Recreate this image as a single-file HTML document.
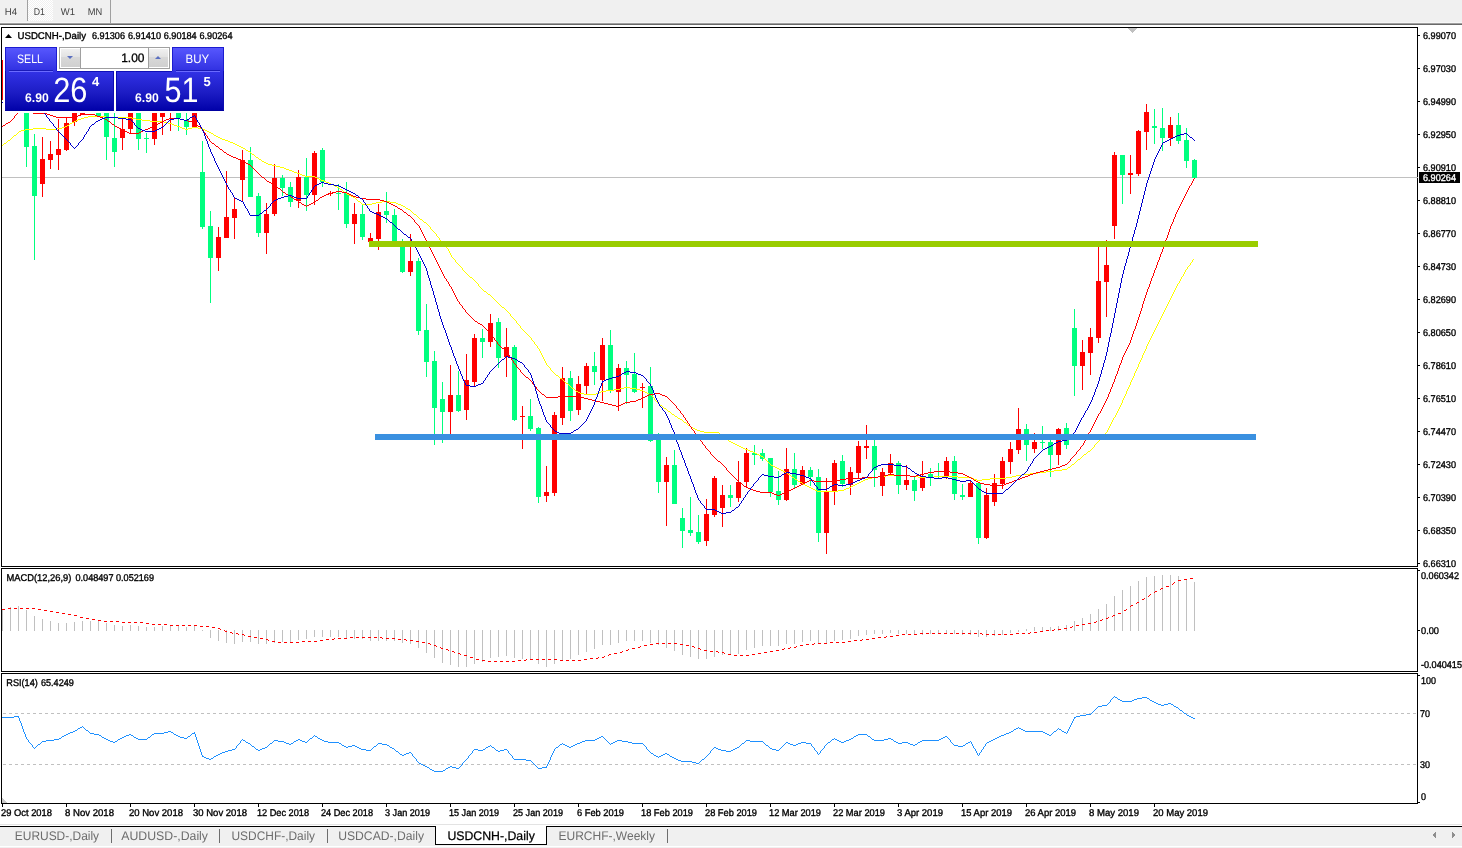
<!DOCTYPE html>
<html lang="en"><head><meta charset="utf-8"><title>USDCNH-,Daily</title>
<style>html,body{margin:0;padding:0;background:#fff;overflow:hidden}svg{display:block}text{white-space:pre}</style>
</head><body>
<svg width="1462" height="848" viewBox="0 0 1462 848" font-family="'Liberation Sans', sans-serif" shape-rendering="crispEdges" text-rendering="geometricPrecision">
<defs><linearGradient id="gbtn" x1="0" y1="0" x2="0" y2="1"><stop offset="0" stop-color="#5858ff"/><stop offset="1" stop-color="#2f2fe0"/></linearGradient><linearGradient id="gprice" x1="0" y1="0" x2="0" y2="1"><stop offset="0" stop-color="#3232e6"/><stop offset="0.55" stop-color="#1c1cc4"/><stop offset="1" stop-color="#0000a8"/></linearGradient><linearGradient id="gspin" x1="0" y1="0" x2="0" y2="1"><stop offset="0" stop-color="#f0f0f0"/><stop offset="0.45" stop-color="#e2e2e2"/><stop offset="0.46" stop-color="#d8d8d8"/><stop offset="1" stop-color="#d0d0d0"/></linearGradient><pattern id="chk" width="2" height="2" patternUnits="userSpaceOnUse"><rect width="2" height="2" fill="#ffffff"/><rect width="1" height="1" fill="#f0f0f0"/><rect x="1" y="1" width="1" height="1" fill="#f0f0f0"/></pattern><clipPath id="cmain"><rect x="2" y="28" width="1415" height="538"/></clipPath></defs>
<rect x="0" y="0" width="1462" height="848" fill="#fff"/>
<rect x="0" y="0" width="1462" height="23" fill="#f0f0f0"/>
<rect x="0" y="22" width="1462" height="1" fill="#f7f7f7"/>
<rect x="0" y="23" width="1462" height="1" fill="#a0a0a0"/>
<rect x="0" y="24" width="1462" height="1" fill="#696969"/>
<rect x="28" y="0" width="25" height="21" fill="url(#chk)"/>
<rect x="27" y="0" width="1" height="21" fill="#a0a0a0"/>
<rect x="110" y="0" width="1" height="23" fill="#a0a0a0"/>
<text x="4.7" y="15" font-size="9.7" fill="#444" textLength="12.3" lengthAdjust="spacingAndGlyphs">H4</text>
<text x="33.8" y="15" font-size="9.7" fill="#444" textLength="11.2" lengthAdjust="spacingAndGlyphs">D1</text>
<text x="60.8" y="15" font-size="9.7" fill="#444" textLength="14.2" lengthAdjust="spacingAndGlyphs">W1</text>
<text x="87.7" y="15" font-size="9.7" fill="#444" textLength="14.5" lengthAdjust="spacingAndGlyphs">MN</text>
<rect x="1" y="27" width="1417" height="1" fill="#000"/>
<rect x="1" y="566" width="1417" height="1" fill="#000"/>
<rect x="1" y="27" width="1" height="540" fill="#000"/>
<rect x="1417" y="27" width="1" height="540" fill="#000"/>
<rect x="1" y="568" width="1417" height="1" fill="#000"/>
<rect x="1" y="671" width="1417" height="1" fill="#000"/>
<rect x="1" y="568" width="1" height="104" fill="#000"/>
<rect x="1417" y="568" width="1" height="104" fill="#000"/>
<rect x="1" y="673" width="1417" height="1" fill="#000"/>
<rect x="1" y="803" width="1417" height="1" fill="#000"/>
<rect x="1" y="673" width="1" height="131" fill="#000"/>
<rect x="1417" y="673" width="1" height="131" fill="#000"/>
<g clip-path="url(#cmain)">
<rect x="2" y="177" width="1415" height="1" fill="#c0c0c0"/>
<rect x="26" y="108" width="1" height="59" fill="#00FF7F"/>
<rect x="24" y="110" width="5" height="37" fill="#00FF7F"/>
<rect x="34" y="134" width="1" height="126" fill="#00FF7F"/>
<rect x="32" y="146" width="5" height="50" fill="#00FF7F"/>
<rect x="42" y="137" width="1" height="60" fill="#FF0000"/>
<rect x="40" y="159" width="5" height="25" fill="#FF0000"/>
<rect x="50" y="141" width="1" height="28" fill="#FF0000"/>
<rect x="48" y="154" width="5" height="6" fill="#FF0000"/>
<rect x="58" y="119" width="1" height="51" fill="#FF0000"/>
<rect x="56" y="149" width="5" height="6" fill="#FF0000"/>
<rect x="66" y="118" width="1" height="33" fill="#FF0000"/>
<rect x="64" y="123" width="5" height="27" fill="#FF0000"/>
<rect x="74" y="105" width="1" height="21" fill="#FF0000"/>
<rect x="72" y="105" width="5" height="17" fill="#FF0000"/>
<rect x="82" y="105" width="1" height="10" fill="#FF0000"/>
<rect x="80" y="105" width="5" height="10" fill="#FF0000"/>
<rect x="90" y="105" width="1" height="7" fill="#00FF7F"/>
<rect x="88" y="105" width="5" height="7" fill="#00FF7F"/>
<rect x="98" y="105" width="1" height="12" fill="#00FF7F"/>
<rect x="96" y="105" width="5" height="12" fill="#00FF7F"/>
<rect x="106" y="105" width="1" height="55" fill="#00FF7F"/>
<rect x="104" y="105" width="5" height="32" fill="#00FF7F"/>
<rect x="114" y="113" width="1" height="54" fill="#00FF7F"/>
<rect x="112" y="138" width="5" height="14" fill="#00FF7F"/>
<rect x="122" y="118" width="1" height="32" fill="#FF0000"/>
<rect x="120" y="129" width="5" height="9" fill="#FF0000"/>
<rect x="130" y="105" width="1" height="28" fill="#FF0000"/>
<rect x="128" y="105" width="5" height="24" fill="#FF0000"/>
<rect x="138" y="105" width="1" height="45" fill="#00FF7F"/>
<rect x="136" y="105" width="5" height="34" fill="#00FF7F"/>
<rect x="146" y="133" width="1" height="20" fill="#00FF7F"/>
<rect x="144" y="138" width="5" height="1" fill="#00FF7F"/>
<rect x="154" y="105" width="1" height="40" fill="#FF0000"/>
<rect x="152" y="105" width="5" height="34" fill="#FF0000"/>
<rect x="162" y="105" width="1" height="30" fill="#FF0000"/>
<rect x="160" y="105" width="5" height="12" fill="#FF0000"/>
<rect x="170" y="105" width="1" height="26" fill="#FF0000"/>
<rect x="168" y="105" width="5" height="7" fill="#FF0000"/>
<rect x="178" y="105" width="1" height="26" fill="#00FF7F"/>
<rect x="176" y="105" width="5" height="13" fill="#00FF7F"/>
<rect x="186" y="105" width="1" height="30" fill="#00FF7F"/>
<rect x="184" y="120" width="5" height="7" fill="#00FF7F"/>
<rect x="194" y="105" width="1" height="22" fill="#FF0000"/>
<rect x="192" y="105" width="5" height="22" fill="#FF0000"/>
<rect x="202" y="141" width="1" height="88" fill="#00FF7F"/>
<rect x="200" y="172" width="5" height="55" fill="#00FF7F"/>
<rect x="210" y="211" width="1" height="92" fill="#00FF7F"/>
<rect x="208" y="226" width="5" height="32" fill="#00FF7F"/>
<rect x="218" y="227" width="1" height="44" fill="#FF0000"/>
<rect x="216" y="237" width="5" height="21" fill="#FF0000"/>
<rect x="226" y="171" width="1" height="67" fill="#FF0000"/>
<rect x="224" y="217" width="5" height="21" fill="#FF0000"/>
<rect x="234" y="198" width="1" height="41" fill="#FF0000"/>
<rect x="232" y="209" width="5" height="9" fill="#FF0000"/>
<rect x="242" y="150" width="1" height="51" fill="#FF0000"/>
<rect x="240" y="160" width="5" height="20" fill="#FF0000"/>
<rect x="250" y="147" width="1" height="50" fill="#00FF7F"/>
<rect x="248" y="160" width="5" height="37" fill="#00FF7F"/>
<rect x="258" y="193" width="1" height="44" fill="#00FF7F"/>
<rect x="256" y="196" width="5" height="37" fill="#00FF7F"/>
<rect x="266" y="203" width="1" height="51" fill="#FF0000"/>
<rect x="264" y="214" width="5" height="19" fill="#FF0000"/>
<rect x="274" y="164" width="1" height="52" fill="#FF0000"/>
<rect x="272" y="178" width="5" height="36" fill="#FF0000"/>
<rect x="282" y="175" width="1" height="21" fill="#00FF7F"/>
<rect x="280" y="178" width="5" height="10" fill="#00FF7F"/>
<rect x="290" y="182" width="1" height="25" fill="#00FF7F"/>
<rect x="288" y="187" width="5" height="15" fill="#00FF7F"/>
<rect x="298" y="170" width="1" height="38" fill="#FF0000"/>
<rect x="296" y="177" width="5" height="24" fill="#FF0000"/>
<rect x="306" y="158" width="1" height="53" fill="#00FF7F"/>
<rect x="304" y="177" width="5" height="18" fill="#00FF7F"/>
<rect x="314" y="151" width="1" height="54" fill="#FF0000"/>
<rect x="312" y="153" width="5" height="42" fill="#FF0000"/>
<rect x="322" y="148" width="1" height="39" fill="#00FF7F"/>
<rect x="320" y="150" width="5" height="32" fill="#00FF7F"/>
<rect x="330" y="191" width="1" height="5" fill="#FF0000"/>
<rect x="328" y="193" width="5" height="1" fill="#FF0000"/>
<rect x="338" y="184" width="1" height="26" fill="#00FF7F"/>
<rect x="336" y="193" width="5" height="1" fill="#00FF7F"/>
<rect x="346" y="182" width="1" height="46" fill="#00FF7F"/>
<rect x="344" y="193" width="5" height="31" fill="#00FF7F"/>
<rect x="354" y="203" width="1" height="41" fill="#FF0000"/>
<rect x="352" y="214" width="5" height="10" fill="#FF0000"/>
<rect x="362" y="205" width="1" height="35" fill="#00FF7F"/>
<rect x="360" y="214" width="5" height="23" fill="#00FF7F"/>
<rect x="370" y="233" width="1" height="9" fill="#FF0000"/>
<rect x="368" y="238" width="5" height="4" fill="#FF0000"/>
<rect x="378" y="204" width="1" height="46" fill="#FF0000"/>
<rect x="376" y="212" width="5" height="27" fill="#FF0000"/>
<rect x="386" y="192" width="1" height="31" fill="#00FF7F"/>
<rect x="384" y="211" width="5" height="4" fill="#00FF7F"/>
<rect x="394" y="209" width="1" height="34" fill="#00FF7F"/>
<rect x="392" y="215" width="5" height="28" fill="#00FF7F"/>
<rect x="402" y="239" width="1" height="34" fill="#00FF7F"/>
<rect x="400" y="242" width="5" height="30" fill="#00FF7F"/>
<rect x="410" y="234" width="1" height="42" fill="#FF0000"/>
<rect x="408" y="261" width="5" height="11" fill="#FF0000"/>
<rect x="418" y="258" width="1" height="77" fill="#00FF7F"/>
<rect x="416" y="261" width="5" height="70" fill="#00FF7F"/>
<rect x="426" y="304" width="1" height="73" fill="#00FF7F"/>
<rect x="424" y="330" width="5" height="32" fill="#00FF7F"/>
<rect x="434" y="351" width="1" height="94" fill="#00FF7F"/>
<rect x="432" y="361" width="5" height="47" fill="#00FF7F"/>
<rect x="442" y="382" width="1" height="61" fill="#00FF7F"/>
<rect x="440" y="399" width="5" height="13" fill="#00FF7F"/>
<rect x="450" y="365" width="1" height="71" fill="#FF0000"/>
<rect x="448" y="395" width="5" height="17" fill="#FF0000"/>
<rect x="458" y="371" width="1" height="41" fill="#00FF7F"/>
<rect x="456" y="395" width="5" height="16" fill="#00FF7F"/>
<rect x="466" y="354" width="1" height="66" fill="#FF0000"/>
<rect x="464" y="380" width="5" height="30" fill="#FF0000"/>
<rect x="474" y="334" width="1" height="52" fill="#FF0000"/>
<rect x="472" y="338" width="5" height="44" fill="#FF0000"/>
<rect x="482" y="329" width="1" height="29" fill="#00FF7F"/>
<rect x="480" y="338" width="5" height="4" fill="#00FF7F"/>
<rect x="490" y="314" width="1" height="33" fill="#FF0000"/>
<rect x="488" y="323" width="5" height="19" fill="#FF0000"/>
<rect x="498" y="318" width="1" height="50" fill="#00FF7F"/>
<rect x="496" y="322" width="5" height="36" fill="#00FF7F"/>
<rect x="506" y="328" width="1" height="49" fill="#FF0000"/>
<rect x="504" y="347" width="5" height="10" fill="#FF0000"/>
<rect x="514" y="345" width="1" height="76" fill="#00FF7F"/>
<rect x="512" y="347" width="5" height="73" fill="#00FF7F"/>
<rect x="522" y="406" width="1" height="43" fill="#FF0000"/>
<rect x="520" y="416" width="5" height="1" fill="#FF0000"/>
<rect x="530" y="399" width="1" height="32" fill="#00FF7F"/>
<rect x="528" y="416" width="5" height="13" fill="#00FF7F"/>
<rect x="538" y="427" width="1" height="76" fill="#00FF7F"/>
<rect x="536" y="428" width="5" height="69" fill="#00FF7F"/>
<rect x="546" y="466" width="1" height="36" fill="#FF0000"/>
<rect x="544" y="492" width="5" height="4" fill="#FF0000"/>
<rect x="554" y="412" width="1" height="84" fill="#FF0000"/>
<rect x="552" y="415" width="5" height="78" fill="#FF0000"/>
<rect x="562" y="367" width="1" height="58" fill="#FF0000"/>
<rect x="560" y="378" width="5" height="40" fill="#FF0000"/>
<rect x="570" y="371" width="1" height="50" fill="#00FF7F"/>
<rect x="568" y="378" width="5" height="33" fill="#00FF7F"/>
<rect x="578" y="376" width="1" height="39" fill="#FF0000"/>
<rect x="576" y="384" width="5" height="26" fill="#FF0000"/>
<rect x="586" y="363" width="1" height="31" fill="#FF0000"/>
<rect x="584" y="366" width="5" height="20" fill="#FF0000"/>
<rect x="594" y="352" width="1" height="33" fill="#00FF7F"/>
<rect x="592" y="366" width="5" height="6" fill="#00FF7F"/>
<rect x="602" y="338" width="1" height="63" fill="#FF0000"/>
<rect x="600" y="345" width="5" height="35" fill="#FF0000"/>
<rect x="610" y="330" width="1" height="63" fill="#00FF7F"/>
<rect x="608" y="345" width="5" height="46" fill="#00FF7F"/>
<rect x="618" y="364" width="1" height="47" fill="#FF0000"/>
<rect x="616" y="368" width="5" height="24" fill="#FF0000"/>
<rect x="626" y="361" width="1" height="43" fill="#00FF7F"/>
<rect x="624" y="368" width="5" height="7" fill="#00FF7F"/>
<rect x="634" y="353" width="1" height="40" fill="#00FF7F"/>
<rect x="632" y="374" width="5" height="18" fill="#00FF7F"/>
<rect x="642" y="383" width="1" height="25" fill="#FF0000"/>
<rect x="640" y="387" width="5" height="1" fill="#FF0000"/>
<rect x="650" y="367" width="1" height="75" fill="#00FF7F"/>
<rect x="648" y="386" width="5" height="55" fill="#00FF7F"/>
<rect x="658" y="433" width="1" height="60" fill="#00FF7F"/>
<rect x="656" y="436" width="5" height="46" fill="#00FF7F"/>
<rect x="666" y="457" width="1" height="69" fill="#FF0000"/>
<rect x="664" y="465" width="5" height="17" fill="#FF0000"/>
<rect x="674" y="450" width="1" height="54" fill="#00FF7F"/>
<rect x="672" y="465" width="5" height="39" fill="#00FF7F"/>
<rect x="682" y="508" width="1" height="40" fill="#00FF7F"/>
<rect x="680" y="518" width="5" height="13" fill="#00FF7F"/>
<rect x="690" y="497" width="1" height="39" fill="#00FF7F"/>
<rect x="688" y="530" width="5" height="3" fill="#00FF7F"/>
<rect x="698" y="515" width="1" height="29" fill="#00FF7F"/>
<rect x="696" y="532" width="5" height="10" fill="#00FF7F"/>
<rect x="706" y="499" width="1" height="47" fill="#FF0000"/>
<rect x="704" y="514" width="5" height="27" fill="#FF0000"/>
<rect x="714" y="476" width="1" height="41" fill="#FF0000"/>
<rect x="712" y="478" width="5" height="37" fill="#FF0000"/>
<rect x="722" y="485" width="1" height="42" fill="#FF0000"/>
<rect x="720" y="495" width="5" height="13" fill="#FF0000"/>
<rect x="730" y="485" width="1" height="22" fill="#00FF7F"/>
<rect x="728" y="495" width="5" height="3" fill="#00FF7F"/>
<rect x="738" y="461" width="1" height="41" fill="#FF0000"/>
<rect x="736" y="482" width="5" height="16" fill="#FF0000"/>
<rect x="746" y="448" width="1" height="40" fill="#FF0000"/>
<rect x="744" y="453" width="5" height="29" fill="#FF0000"/>
<rect x="754" y="445" width="1" height="20" fill="#00FF7F"/>
<rect x="752" y="453" width="5" height="2" fill="#00FF7F"/>
<rect x="762" y="449" width="1" height="12" fill="#00FF7F"/>
<rect x="760" y="453" width="5" height="6" fill="#00FF7F"/>
<rect x="770" y="458" width="1" height="39" fill="#00FF7F"/>
<rect x="768" y="458" width="5" height="34" fill="#00FF7F"/>
<rect x="778" y="471" width="1" height="34" fill="#00FF7F"/>
<rect x="776" y="491" width="5" height="9" fill="#00FF7F"/>
<rect x="786" y="448" width="1" height="53" fill="#FF0000"/>
<rect x="784" y="469" width="5" height="31" fill="#FF0000"/>
<rect x="794" y="453" width="1" height="36" fill="#00FF7F"/>
<rect x="792" y="469" width="5" height="16" fill="#00FF7F"/>
<rect x="802" y="466" width="1" height="19" fill="#FF0000"/>
<rect x="800" y="470" width="5" height="14" fill="#FF0000"/>
<rect x="810" y="467" width="1" height="19" fill="#00FF7F"/>
<rect x="808" y="470" width="5" height="7" fill="#00FF7F"/>
<rect x="818" y="469" width="1" height="73" fill="#00FF7F"/>
<rect x="816" y="477" width="5" height="56" fill="#00FF7F"/>
<rect x="826" y="478" width="1" height="76" fill="#FF0000"/>
<rect x="824" y="491" width="5" height="42" fill="#FF0000"/>
<rect x="834" y="460" width="1" height="45" fill="#FF0000"/>
<rect x="832" y="463" width="5" height="28" fill="#FF0000"/>
<rect x="842" y="455" width="1" height="32" fill="#00FF7F"/>
<rect x="840" y="461" width="5" height="23" fill="#00FF7F"/>
<rect x="850" y="467" width="1" height="28" fill="#FF0000"/>
<rect x="848" y="472" width="5" height="13" fill="#FF0000"/>
<rect x="858" y="441" width="1" height="37" fill="#FF0000"/>
<rect x="856" y="446" width="5" height="27" fill="#FF0000"/>
<rect x="866" y="425" width="1" height="34" fill="#FF0000"/>
<rect x="864" y="446" width="5" height="2" fill="#FF0000"/>
<rect x="874" y="437" width="1" height="50" fill="#00FF7F"/>
<rect x="872" y="446" width="5" height="24" fill="#00FF7F"/>
<rect x="882" y="468" width="1" height="28" fill="#FF0000"/>
<rect x="880" y="472" width="5" height="14" fill="#FF0000"/>
<rect x="890" y="454" width="1" height="21" fill="#FF0000"/>
<rect x="888" y="463" width="5" height="10" fill="#FF0000"/>
<rect x="898" y="461" width="1" height="33" fill="#00FF7F"/>
<rect x="896" y="463" width="5" height="22" fill="#00FF7F"/>
<rect x="906" y="465" width="1" height="25" fill="#FF0000"/>
<rect x="904" y="480" width="5" height="5" fill="#FF0000"/>
<rect x="914" y="477" width="1" height="24" fill="#00FF7F"/>
<rect x="912" y="480" width="5" height="11" fill="#00FF7F"/>
<rect x="922" y="461" width="1" height="30" fill="#FF0000"/>
<rect x="920" y="476" width="5" height="12" fill="#FF0000"/>
<rect x="930" y="468" width="1" height="18" fill="#00FF7F"/>
<rect x="928" y="474" width="5" height="4" fill="#00FF7F"/>
<rect x="938" y="463" width="1" height="15" fill="#00FF7F"/>
<rect x="936" y="476" width="5" height="1" fill="#00FF7F"/>
<rect x="946" y="457" width="1" height="22" fill="#FF0000"/>
<rect x="944" y="461" width="5" height="15" fill="#FF0000"/>
<rect x="954" y="456" width="1" height="44" fill="#00FF7F"/>
<rect x="952" y="461" width="5" height="33" fill="#00FF7F"/>
<rect x="962" y="484" width="1" height="16" fill="#00FF7F"/>
<rect x="960" y="495" width="5" height="2" fill="#00FF7F"/>
<rect x="970" y="481" width="1" height="16" fill="#FF0000"/>
<rect x="968" y="483" width="5" height="14" fill="#FF0000"/>
<rect x="978" y="482" width="1" height="62" fill="#00FF7F"/>
<rect x="976" y="483" width="5" height="55" fill="#00FF7F"/>
<rect x="986" y="488" width="1" height="51" fill="#FF0000"/>
<rect x="984" y="495" width="5" height="43" fill="#FF0000"/>
<rect x="994" y="474" width="1" height="32" fill="#FF0000"/>
<rect x="992" y="483" width="5" height="19" fill="#FF0000"/>
<rect x="1002" y="457" width="1" height="32" fill="#FF0000"/>
<rect x="1000" y="461" width="5" height="23" fill="#FF0000"/>
<rect x="1010" y="442" width="1" height="32" fill="#FF0000"/>
<rect x="1008" y="449" width="5" height="13" fill="#FF0000"/>
<rect x="1018" y="408" width="1" height="46" fill="#FF0000"/>
<rect x="1016" y="429" width="5" height="21" fill="#FF0000"/>
<rect x="1026" y="424" width="1" height="37" fill="#00FF7F"/>
<rect x="1024" y="429" width="5" height="16" fill="#00FF7F"/>
<rect x="1034" y="433" width="1" height="20" fill="#FF0000"/>
<rect x="1032" y="442" width="5" height="7" fill="#FF0000"/>
<rect x="1042" y="426" width="1" height="23" fill="#00FF7F"/>
<rect x="1040" y="442" width="5" height="1" fill="#00FF7F"/>
<rect x="1050" y="440" width="1" height="37" fill="#00FF7F"/>
<rect x="1048" y="442" width="5" height="13" fill="#00FF7F"/>
<rect x="1058" y="428" width="1" height="37" fill="#FF0000"/>
<rect x="1056" y="429" width="5" height="26" fill="#FF0000"/>
<rect x="1066" y="423" width="1" height="26" fill="#00FF7F"/>
<rect x="1064" y="428" width="5" height="17" fill="#00FF7F"/>
<rect x="1074" y="309" width="1" height="87" fill="#00FF7F"/>
<rect x="1072" y="328" width="5" height="38" fill="#00FF7F"/>
<rect x="1082" y="340" width="1" height="50" fill="#FF0000"/>
<rect x="1080" y="352" width="5" height="14" fill="#FF0000"/>
<rect x="1090" y="328" width="1" height="47" fill="#FF0000"/>
<rect x="1088" y="337" width="5" height="16" fill="#FF0000"/>
<rect x="1098" y="243" width="1" height="100" fill="#FF0000"/>
<rect x="1096" y="281" width="5" height="57" fill="#FF0000"/>
<rect x="1106" y="240" width="1" height="77" fill="#FF0000"/>
<rect x="1104" y="265" width="5" height="17" fill="#FF0000"/>
<rect x="1114" y="152" width="1" height="87" fill="#FF0000"/>
<rect x="1112" y="155" width="5" height="71" fill="#FF0000"/>
<rect x="1122" y="155" width="1" height="49" fill="#00FF7F"/>
<rect x="1120" y="155" width="5" height="20" fill="#00FF7F"/>
<rect x="1130" y="155" width="1" height="39" fill="#FF0000"/>
<rect x="1128" y="173" width="5" height="2" fill="#FF0000"/>
<rect x="1138" y="130" width="1" height="46" fill="#FF0000"/>
<rect x="1136" y="131" width="5" height="43" fill="#FF0000"/>
<rect x="1146" y="104" width="1" height="46" fill="#FF0000"/>
<rect x="1144" y="112" width="5" height="20" fill="#FF0000"/>
<rect x="1154" y="109" width="1" height="35" fill="#00FF7F"/>
<rect x="1152" y="126" width="5" height="2" fill="#00FF7F"/>
<rect x="1162" y="108" width="1" height="43" fill="#00FF7F"/>
<rect x="1160" y="128" width="5" height="10" fill="#00FF7F"/>
<rect x="1170" y="117" width="1" height="29" fill="#FF0000"/>
<rect x="1168" y="125" width="5" height="13" fill="#FF0000"/>
<rect x="1178" y="113" width="1" height="31" fill="#00FF7F"/>
<rect x="1176" y="125" width="5" height="16" fill="#00FF7F"/>
<rect x="1186" y="128" width="1" height="40" fill="#00FF7F"/>
<rect x="1184" y="140" width="5" height="21" fill="#00FF7F"/>
<rect x="1194" y="159" width="1" height="19" fill="#00FF7F"/>
<rect x="1192" y="160" width="5" height="18" fill="#00FF7F"/>
<rect x="2" y="60" width="1" height="40" fill="#FF0000"/>
<rect x="2" y="102" width="1" height="1" fill="#0000CD"/>
<path d="M2 145h1v1h-1zM3 144h1v1h-1zM4 143h2v1h-2zM6 142h1v1h-1zM7 141h1v1h-1zM8 140h2v1h-2zM10 139h1v1h-1zM11 138h1v1h-1zM12 137h1v1h-1zM13 136h1v1h-1zM14 135h2v1h-2zM16 134h1v1h-1zM17 133h1v1h-1zM18 132h1v1h-1zM19 131h2v1h-2zM21 130h4v1h-4zM25 129h8v1h-8zM33 128h13v1h-13zM46 129h10v1h-10zM56 128h6v1h-6zM62 127h3v1h-3zM65 126h2v1h-2zM67 125h2v1h-2zM69 124h1v1h-1zM70 123h2v1h-2zM72 122h2v1h-2zM74 121h2v1h-2zM76 120h2v1h-2zM78 119h3v1h-3zM81 118h3v1h-3zM84 117h4v1h-4zM88 116h18v1h-18zM106 117h26v1h-26zM132 118h4v1h-4zM136 119h6v1h-6zM142 120h8v1h-8zM150 121h14v1h-14zM164 122h4v1h-4zM168 123h4v1h-4zM172 124h2v1h-2zM174 125h3v1h-3zM177 126h3v1h-3zM180 127h2v1h-2zM182 128h3v1h-3zM185 129h3v1h-3zM188 128h4v1h-4zM192 127h6v1h-6zM198 128h5v1h-5zM203 129h2v1h-2zM205 130h2v1h-2zM207 131h2v1h-2zM209 132h2v1h-2zM211 133h2v1h-2zM213 134h1v1h-1zM214 135h2v1h-2zM216 136h2v1h-2zM218 137h2v1h-2zM220 138h2v1h-2zM222 139h3v1h-3zM225 140h3v1h-3zM228 141h2v1h-2zM230 142h3v1h-3zM233 143h2v1h-2zM235 144h2v1h-2zM237 145h2v1h-2zM239 146h2v1h-2zM241 147h2v1h-2zM243 148h2v1h-2zM245 149h1v1h-1zM246 150h2v1h-2zM248 151h2v1h-2zM250 152h1v1h-1zM251 153h1v1h-1zM252 154h2v1h-2zM254 155h1v1h-1zM255 156h1v1h-1zM256 157h2v1h-2zM258 158h1v1h-1zM259 159h2v1h-2zM261 160h1v1h-1zM262 161h2v1h-2zM264 162h2v1h-2zM266 163h2v1h-2zM268 164h4v1h-4zM272 165h4v1h-4zM276 166h4v1h-4zM280 167h4v1h-4zM284 168h2v1h-2zM286 169h3v1h-3zM289 170h3v1h-3zM292 171h2v1h-2zM294 172h3v1h-3zM297 173h3v1h-3zM300 174h2v1h-2zM302 175h3v1h-3zM305 176h10v1h-10zM315 177h2v1h-2zM317 178h2v1h-2zM319 179h2v1h-2zM321 180h3v1h-3zM324 181h2v1h-2zM326 182h3v1h-3zM329 183h2v1h-2zM331 184h2v1h-2zM333 185h2v1h-2zM335 186h2v1h-2zM337 187h2v1h-2zM339 188h1v1h-1zM340 189h2v1h-2zM342 190h1v1h-1zM343 191h1v1h-1zM344 192h2v1h-2zM346 193h1v1h-1zM347 194h2v1h-2zM349 195h2v1h-2zM351 196h2v1h-2zM353 197h2v1h-2zM355 198h1v1h-1zM356 199h1v1h-1zM357 200h1v1h-1zM358 201h2v1h-2zM360 202h1v1h-1zM361 203h1v1h-1zM362 204h10v1h-10zM372 203h4v1h-4zM376 202h6v1h-6zM382 201h8v1h-8zM390 202h6v1h-6zM396 203h2v1h-2zM398 204h3v1h-3zM401 205h2v1h-2zM403 206h2v1h-2zM405 207h1v1h-1zM406 208h2v1h-2zM408 209h2v1h-2zM410 210h1v1h-1zM411 211h1v1h-1zM412 212h1v1h-1zM413 213h1v1h-1zM414 214h2v1h-2zM416 215h1v1h-1zM417 216h1v1h-1zM418 217h1v1h-1zM419 218h1v1h-1zM420 219h2v1h-2zM422 220h1v1h-1zM423 221h1v1h-1zM424 222h2v1h-2zM426 223h1v1h-1zM427 224h1v1h-1zM428 225h1v1h-1zM429 226h1v1h-1zM430 227h1v2h-1zM431 229h1v1h-1zM432 230h1v1h-1zM433 231h1v1h-1zM434 232h1v1h-1zM435 233h1v1h-1zM436 234h1v2h-1zM437 236h1v1h-1zM438 237h1v1h-1zM439 238h1v2h-1zM440 240h1v1h-1zM441 241h1v1h-1zM442 242h1v1h-1zM443 243h1v1h-1zM444 244h1v2h-1zM445 246h1v1h-1zM446 247h1v1h-1zM447 248h1v1h-1zM448 249h1v2h-1zM449 251h1v2h-1zM450 253h1v2h-1zM451 255h1v2h-1zM452 257h1v1h-1zM453 258h1v1h-1zM454 259h1v1h-1zM455 260h1v2h-1zM456 262h1v1h-1zM457 263h1v1h-1zM458 264h1v1h-1zM459 265h1v1h-1zM460 266h1v1h-1zM461 267h1v1h-1zM462 268h1v2h-1zM463 270h1v1h-1zM464 271h1v1h-1zM465 272h1v1h-1zM466 273h1v1h-1zM467 274h1v1h-1zM468 275h1v1h-1zM469 276h1v1h-1zM470 277h2v1h-2zM472 278h1v1h-1zM473 279h1v1h-1zM474 280h1v1h-1zM475 281h1v1h-1zM476 282h1v1h-1zM477 283h1v1h-1zM478 284h1v2h-1zM479 286h1v1h-1zM480 287h1v1h-1zM481 288h1v1h-1zM482 289h1v1h-1zM483 290h1v1h-1zM484 291h2v1h-2zM486 292h1v1h-1zM487 293h1v1h-1zM488 294h2v1h-2zM490 295h1v1h-1zM491 296h1v1h-1zM492 297h1v1h-1zM493 298h1v1h-1zM494 299h1v1h-1zM495 300h1v1h-1zM496 301h1v1h-1zM497 302h1v1h-1zM498 303h1v1h-1zM499 304h1v1h-1zM500 305h1v1h-1zM501 306h1v1h-1zM502 307h2v1h-2zM504 308h1v1h-1zM505 309h1v1h-1zM506 310h1v1h-1zM507 311h1v1h-1zM508 312h1v1h-1zM509 313h1v1h-1zM510 314h1v2h-1zM511 316h1v1h-1zM512 317h1v1h-1zM513 318h1v1h-1zM514 319h1v1h-1zM515 320h1v1h-1zM516 321h1v2h-1zM517 323h1v1h-1zM518 324h1v1h-1zM519 325h1v1h-1zM520 326h1v2h-1zM521 328h1v1h-1zM522 329h1v1h-1zM523 330h1v1h-1zM524 331h1v1h-1zM525 332h1v1h-1zM526 333h1v1h-1zM527 334h1v1h-1zM528 335h1v1h-1zM529 336h1v1h-1zM530 337h1v1h-1zM531 338h1v2h-1zM532 340h1v1h-1zM533 341h1v1h-1zM534 342h1v2h-1zM535 344h1v1h-1zM536 345h1v1h-1zM537 346h1v2h-1zM538 348h1v1h-1zM539 349h1v2h-1zM540 351h1v2h-1zM541 353h1v2h-1zM542 355h1v2h-1zM543 357h1v2h-1zM544 359h1v2h-1zM545 361h1v2h-1zM546 363h1v2h-1zM547 365h1v1h-1zM548 366h1v1h-1zM549 367h1v1h-1zM550 368h1v2h-1zM551 370h1v1h-1zM552 371h1v1h-1zM553 372h1v1h-1zM554 373h1v1h-1zM555 374h1v1h-1zM556 375h2v1h-2zM558 376h1v1h-1zM559 377h1v1h-1zM560 378h2v1h-2zM562 379h1v1h-1zM563 380h1v1h-1zM564 381h1v1h-1zM565 382h1v1h-1zM566 383h2v1h-2zM568 384h1v1h-1zM569 385h1v1h-1zM570 386h1v1h-1zM571 387h1v1h-1zM572 388h2v1h-2zM574 389h1v1h-1zM575 390h1v1h-1zM576 391h2v1h-2zM578 392h2v1h-2zM580 393h4v1h-4zM584 394h12v1h-12zM596 393h2v1h-2zM598 392h3v1h-3zM601 391h5v1h-5zM606 390h8v1h-8zM614 389h6v1h-6zM620 388h4v1h-4zM624 387h6v1h-6zM630 388h6v1h-6zM636 389h4v1h-4zM640 390h3v1h-3zM643 391h2v1h-2zM645 392h2v1h-2zM647 393h2v1h-2zM649 394h2v1h-2zM651 395h1v1h-1zM652 396h1v1h-1zM653 397h1v1h-1zM654 398h1v2h-1zM655 400h1v1h-1zM656 401h1v1h-1zM657 402h1v1h-1zM658 403h1v1h-1zM659 404h1v1h-1zM660 405h2v1h-2zM662 406h1v1h-1zM663 407h1v1h-1zM664 408h2v1h-2zM666 409h1v1h-1zM667 410h1v1h-1zM668 411h2v1h-2zM670 412h1v1h-1zM671 413h1v1h-1zM672 414h2v1h-2zM674 415h1v1h-1zM675 416h2v1h-2zM677 417h1v1h-1zM678 418h2v1h-2zM680 419h2v1h-2zM682 420h1v1h-1zM683 421h1v1h-1zM684 422h2v1h-2zM686 423h1v1h-1zM687 424h1v1h-1zM688 425h2v1h-2zM690 426h1v1h-1zM691 427h2v1h-2zM693 428h2v1h-2zM695 429h2v1h-2zM697 430h3v1h-3zM700 431h4v1h-4zM704 432h15v1h-15zM719 433h1v1h-1zM720 434h2v1h-2zM722 435h1v1h-1zM723 436h1v1h-1zM724 437h1v1h-1zM725 438h2v1h-2zM727 439h1v1h-1zM728 440h1v1h-1zM729 441h2v1h-2zM731 442h2v1h-2zM733 443h2v1h-2zM735 444h2v1h-2zM737 445h2v1h-2zM739 446h2v1h-2zM741 447h2v1h-2zM743 448h2v1h-2zM745 449h3v1h-3zM748 450h2v1h-2zM750 451h3v1h-3zM753 452h2v1h-2zM755 453h2v1h-2zM757 454h2v1h-2zM759 455h2v1h-2zM761 456h2v1h-2zM763 457h1v1h-1zM764 458h1v1h-1zM765 459h1v1h-1zM766 460h1v1h-1zM767 461h1v1h-1zM768 462h1v1h-1zM769 463h1v1h-1zM770 464h1v1h-1zM771 465h2v1h-2zM773 466h2v1h-2zM775 467h2v1h-2zM777 468h2v1h-2zM779 469h2v1h-2zM781 470h2v1h-2zM783 471h2v1h-2zM785 472h2v1h-2zM787 473h1v1h-1zM788 474h2v1h-2zM790 475h1v1h-1zM791 476h1v1h-1zM792 477h2v1h-2zM794 478h1v1h-1zM795 479h2v1h-2zM797 480h1v1h-1zM798 481h2v1h-2zM800 482h2v1h-2zM802 483h1v1h-1zM803 484h2v1h-2zM805 485h2v1h-2zM807 486h2v1h-2zM809 487h2v1h-2zM811 488h2v1h-2zM813 489h2v1h-2zM815 490h2v1h-2zM817 491h21v1h-21zM838 490h6v1h-6zM844 489h2v1h-2zM846 488h3v1h-3zM849 487h2v1h-2zM851 486h2v1h-2zM853 485h2v1h-2zM855 484h2v1h-2zM857 483h2v1h-2zM859 482h2v1h-2zM861 481h2v1h-2zM863 480h2v1h-2zM865 479h3v1h-3zM868 478h4v1h-4zM872 477h6v1h-6zM878 476h8v1h-8zM886 475h24v1h-24zM910 476h8v1h-8zM918 477h16v1h-16zM934 476h24v1h-24zM958 477h14v1h-14zM972 478h2v1h-2zM974 479h3v1h-3zM977 480h5v1h-5zM982 479h8v1h-8zM990 478h16v1h-16zM1006 477h6v1h-6zM1012 476h4v1h-4zM1016 475h6v1h-6zM1022 474h8v1h-8zM1030 473h8v1h-8zM1038 472h8v1h-8zM1046 471h8v1h-8zM1054 470h8v1h-8zM1062 469h5v1h-5zM1067 468h1v1h-1zM1068 467h2v1h-2zM1070 466h1v1h-1zM1071 465h1v1h-1zM1072 464h2v1h-2zM1074 463h1v1h-1zM1075 462h1v1h-1zM1076 461h1v1h-1zM1077 460h1v1h-1zM1078 459h2v1h-2zM1080 458h1v1h-1zM1081 457h1v1h-1zM1082 456h1v1h-1zM1083 455h1v1h-1zM1084 454h2v1h-2zM1086 453h1v1h-1zM1087 452h1v1h-1zM1088 451h2v1h-2zM1090 450h1v1h-1zM1091 449h1v1h-1zM1092 448h1v1h-1zM1093 447h1v1h-1zM1094 445h1v2h-1zM1095 444h1v1h-1zM1096 443h1v1h-1zM1097 442h1v1h-1zM1098 441h1v1h-1zM1099 440h1v1h-1zM1100 439h1v1h-1zM1101 438h1v1h-1zM1102 436h1v2h-1zM1103 435h1v1h-1zM1104 434h1v1h-1zM1105 433h1v1h-1zM1106 432h1v1h-1zM1107 430h1v2h-1zM1108 428h1v2h-1zM1109 426h1v2h-1zM1110 424h1v2h-1zM1111 422h1v2h-1zM1112 420h1v2h-1zM1113 418h1v2h-1zM1114 417h1v1h-1zM1115 415h1v2h-1zM1116 413h1v2h-1zM1117 411h1v2h-1zM1118 409h1v2h-1zM1119 407h1v2h-1zM1120 405h1v2h-1zM1121 403h1v2h-1zM1122 400h1v3h-1zM1123 398h1v2h-1zM1124 396h1v2h-1zM1125 394h1v2h-1zM1126 391h1v3h-1zM1127 389h1v2h-1zM1128 387h1v2h-1zM1129 385h1v2h-1zM1130 382h1v3h-1zM1131 380h1v2h-1zM1132 378h1v2h-1zM1133 376h1v2h-1zM1134 373h1v3h-1zM1135 371h1v2h-1zM1136 369h1v2h-1zM1137 367h1v2h-1zM1138 364h1v3h-1zM1139 362h1v2h-1zM1140 360h1v2h-1zM1141 358h1v2h-1zM1142 355h1v3h-1zM1143 353h1v2h-1zM1144 351h1v2h-1zM1145 349h1v2h-1zM1146 346h1v3h-1zM1147 344h1v2h-1zM1148 342h1v2h-1zM1149 340h1v2h-1zM1150 338h1v2h-1zM1151 336h1v2h-1zM1152 334h1v2h-1zM1153 332h1v2h-1zM1154 330h1v2h-1zM1155 328h1v2h-1zM1156 326h1v2h-1zM1157 324h1v2h-1zM1158 322h1v2h-1zM1159 320h1v2h-1zM1160 318h1v2h-1zM1161 316h1v2h-1zM1162 314h1v2h-1zM1163 312h1v2h-1zM1164 310h1v2h-1zM1165 308h1v2h-1zM1166 306h1v2h-1zM1167 304h1v2h-1zM1168 302h1v2h-1zM1169 300h1v2h-1zM1170 298h1v2h-1zM1171 296h1v2h-1zM1172 294h1v2h-1zM1173 292h1v2h-1zM1174 290h1v2h-1zM1175 288h1v2h-1zM1176 286h1v2h-1zM1177 284h1v2h-1zM1178 283h1v1h-1zM1179 281h1v2h-1zM1180 279h1v2h-1zM1181 277h1v2h-1zM1182 276h1v1h-1zM1183 274h1v2h-1zM1184 272h1v2h-1zM1185 270h1v2h-1zM1186 269h1v1h-1zM1187 267h1v2h-1zM1188 266h1v1h-1zM1189 265h1v1h-1zM1190 263h1v2h-1zM1191 262h1v1h-1zM1192 260h1v2h-1zM1193 259h1v1h-1z" fill="#FFFF00"/>
<path d="M2 126h1v1h-1zM3 125h2v1h-2zM5 124h1v1h-1zM6 123h2v1h-2zM8 122h2v1h-2zM10 121h1v1h-1zM11 120h1v1h-1zM12 119h1v1h-1zM13 118h1v1h-1zM14 116h1v2h-1zM15 115h1v1h-1zM16 114h1v1h-1zM17 113h1v1h-1zM18 111h1v2h-1zM19 110h1v1h-1zM19 109h13v1h-13zM32 110h1v2h-1zM33 112h1v1h-1zM33 113h14v1h-14zM47 114h3v1h-3zM50 115h3v1h-3zM53 116h3v1h-3zM56 117h20v1h-20zM76 116h2v1h-2zM78 115h3v1h-3zM81 114h14v1h-14zM95 115h2v1h-2zM97 116h3v1h-3zM100 117h3v1h-3zM103 118h2v1h-2zM105 119h2v1h-2zM107 120h1v1h-1zM108 121h2v1h-2zM110 122h1v1h-1zM111 123h1v1h-1zM112 124h2v1h-2zM114 125h1v1h-1zM115 126h2v1h-2zM117 127h2v1h-2zM119 128h2v1h-2zM121 129h2v1h-2zM123 130h2v1h-2zM125 131h2v1h-2zM127 132h2v1h-2zM129 133h10v1h-10zM139 132h2v1h-2zM141 131h2v1h-2zM143 130h2v1h-2zM145 129h3v1h-3zM148 128h2v1h-2zM150 127h3v1h-3zM153 126h2v1h-2zM155 125h2v1h-2zM157 124h1v1h-1zM158 123h2v1h-2zM160 122h2v1h-2zM162 121h2v1h-2zM164 120h2v1h-2zM166 119h3v1h-3zM169 118h11v1h-11zM180 119h4v1h-4zM184 120h4v1h-4zM188 121h4v1h-4zM192 122h3v1h-3zM195 123h1v1h-1zM196 124h1v1h-1zM197 125h1v1h-1zM198 126h2v1h-2zM200 127h1v1h-1zM201 128h1v1h-1zM202 129h1v1h-1zM203 130h1v2h-1zM204 132h1v1h-1zM205 133h1v2h-1zM206 135h1v1h-1zM207 136h1v2h-1zM208 138h1v1h-1zM209 139h1v2h-1zM210 141h1v1h-1zM211 142h1v1h-1zM212 143h2v1h-2zM214 144h1v1h-1zM215 145h1v1h-1zM216 146h2v1h-2zM218 147h1v1h-1zM219 148h1v1h-1zM220 149h2v1h-2zM222 150h1v1h-1zM223 151h1v1h-1zM224 152h2v1h-2zM226 153h1v1h-1zM227 154h2v1h-2zM229 155h2v1h-2zM231 156h2v1h-2zM233 157h3v1h-3zM236 158h2v1h-2zM238 159h3v1h-3zM241 160h2v1h-2zM243 161h2v1h-2zM245 162h1v1h-1zM246 163h2v1h-2zM248 164h2v1h-2zM250 165h1v1h-1zM251 166h1v1h-1zM252 167h1v1h-1zM253 168h1v1h-1zM254 169h1v1h-1zM255 170h1v1h-1zM256 171h1v1h-1zM257 172h1v1h-1zM258 173h1v1h-1zM259 174h1v1h-1zM260 175h1v1h-1zM261 176h1v1h-1zM262 177h2v1h-2zM264 178h1v1h-1zM265 179h1v1h-1zM266 180h1v1h-1zM267 181h2v1h-2zM269 182h2v1h-2zM271 183h2v1h-2zM273 184h2v1h-2zM275 185h1v1h-1zM276 186h1v1h-1zM277 187h1v1h-1zM278 188h2v1h-2zM280 189h1v1h-1zM281 190h1v1h-1zM282 191h1v1h-1zM283 192h2v1h-2zM285 193h1v1h-1zM286 194h2v1h-2zM288 195h2v1h-2zM290 196h1v1h-1zM291 197h2v1h-2zM293 198h1v1h-1zM294 199h2v1h-2zM296 200h2v1h-2zM298 201h1v1h-1zM299 202h2v1h-2zM301 203h1v1h-1zM302 204h2v1h-2zM304 205h2v1h-2zM306 206h1v1h-1zM307 205h2v1h-2zM309 204h2v1h-2zM311 203h2v1h-2zM313 202h2v1h-2zM315 201h1v1h-1zM316 200h2v1h-2zM318 199h1v1h-1zM319 198h1v1h-1zM320 197h2v1h-2zM322 196h2v1h-2zM324 195h2v1h-2zM326 194h3v1h-3zM329 193h3v1h-3zM332 192h4v1h-4zM336 191h6v1h-6zM342 192h5v1h-5zM347 193h2v1h-2zM349 194h2v1h-2zM351 195h2v1h-2zM353 196h3v1h-3zM356 197h4v1h-4zM360 198h6v1h-6zM366 199h14v1h-14zM380 200h4v1h-4zM384 201h3v1h-3zM387 202h2v1h-2zM389 203h2v1h-2zM391 204h2v1h-2zM393 205h2v1h-2zM395 206h2v1h-2zM397 207h1v1h-1zM398 208h2v1h-2zM400 209h2v1h-2zM402 210h1v1h-1zM403 211h1v1h-1zM404 212h2v1h-2zM406 213h1v1h-1zM407 214h1v1h-1zM408 215h2v1h-2zM410 216h1v1h-1zM411 217h1v1h-1zM412 218h1v1h-1zM413 219h1v1h-1zM414 220h1v2h-1zM415 222h1v1h-1zM416 223h1v1h-1zM417 224h1v1h-1zM418 225h1v1h-1zM419 226h1v2h-1zM420 228h1v2h-1zM421 230h1v2h-1zM422 232h1v2h-1zM423 234h1v2h-1zM424 236h1v2h-1zM425 238h1v2h-1zM426 240h1v2h-1zM427 242h1v2h-1zM428 244h1v2h-1zM429 246h1v2h-1zM430 248h1v2h-1zM431 250h1v2h-1zM432 252h1v2h-1zM433 254h1v2h-1zM434 256h1v2h-1zM435 258h1v2h-1zM436 260h1v2h-1zM437 262h1v2h-1zM438 264h1v2h-1zM439 266h1v2h-1zM440 268h1v2h-1zM441 270h1v2h-1zM442 272h1v2h-1zM443 274h1v2h-1zM444 276h1v2h-1zM445 278h1v1h-1zM446 279h1v2h-1zM447 281h1v1h-1zM448 282h1v2h-1zM449 284h1v2h-1zM450 286h1v1h-1zM451 287h1v2h-1zM452 289h1v2h-1zM453 291h1v2h-1zM454 293h1v2h-1zM455 295h1v2h-1zM456 297h1v2h-1zM457 299h1v2h-1zM458 301h1v1h-1zM459 302h1v2h-1zM460 304h1v1h-1zM461 305h1v1h-1zM462 306h1v2h-1zM463 308h1v1h-1zM464 309h1v1h-1zM465 310h1v2h-1zM466 312h1v1h-1zM467 313h1v1h-1zM468 314h1v1h-1zM469 315h1v1h-1zM470 316h1v1h-1zM471 317h1v1h-1zM472 318h1v1h-1zM473 319h1v1h-1zM474 320h1v1h-1zM475 321h2v1h-2zM477 322h1v1h-1zM478 323h2v1h-2zM480 324h2v1h-2zM482 325h1v1h-1zM483 326h1v1h-1zM484 327h1v1h-1zM485 328h1v1h-1zM486 329h1v1h-1zM487 330h1v1h-1zM488 331h1v1h-1zM489 332h1v1h-1zM490 333h1v1h-1zM491 334h1v2h-1zM492 336h1v1h-1zM493 337h1v1h-1zM494 338h1v2h-1zM495 340h1v1h-1zM496 341h1v1h-1zM497 342h1v2h-1zM498 344h1v1h-1zM499 345h1v1h-1zM500 346h1v1h-1zM501 347h1v1h-1zM502 348h2v1h-2zM504 349h1v1h-1zM505 350h1v1h-1zM506 351h1v1h-1zM507 352h1v2h-1zM508 354h1v1h-1zM509 355h1v2h-1zM510 357h1v1h-1zM511 358h1v2h-1zM512 360h1v1h-1zM513 361h1v2h-1zM514 363h1v1h-1zM515 364h1v1h-1zM516 365h1v2h-1zM517 367h1v1h-1zM518 368h1v1h-1zM519 369h1v1h-1zM520 370h1v2h-1zM521 372h1v1h-1zM522 373h1v1h-1zM523 374h1v1h-1zM524 375h1v1h-1zM525 376h1v1h-1zM526 377h2v1h-2zM528 378h1v1h-1zM529 379h1v1h-1zM530 380h1v1h-1zM531 381h1v1h-1zM532 382h1v2h-1zM533 384h1v1h-1zM534 385h1v1h-1zM535 386h1v1h-1zM536 387h1v2h-1zM537 389h1v1h-1zM538 390h1v1h-1zM539 391h1v1h-1zM540 392h1v1h-1zM541 393h1v1h-1zM542 394h2v1h-2zM544 395h1v1h-1zM545 396h1v1h-1zM546 397h12v1h-12zM558 396h22v1h-22zM580 397h4v1h-4zM584 398h4v1h-4zM588 399h4v1h-4zM592 400h4v1h-4zM596 401h4v1h-4zM600 402h4v1h-4zM604 403h4v1h-4zM608 404h4v1h-4zM612 405h4v1h-4zM616 406h3v1h-3zM619 405h2v1h-2zM621 404h2v1h-2zM623 403h2v1h-2zM625 402h5v1h-5zM630 401h6v1h-6zM636 400h2v1h-2zM638 399h3v1h-3zM641 398h2v1h-2zM643 397h2v1h-2zM645 396h2v1h-2zM647 395h2v1h-2zM649 394h5v1h-5zM654 393h6v1h-6zM660 394h2v1h-2zM662 395h3v1h-3zM665 396h2v1h-2zM667 397h1v1h-1zM668 398h1v1h-1zM669 399h1v1h-1zM670 400h1v1h-1zM671 401h1v1h-1zM672 402h1v1h-1zM673 403h1v1h-1zM674 404h1v1h-1zM675 405h1v1h-1zM676 406h1v2h-1zM677 408h1v1h-1zM678 409h1v1h-1zM679 410h1v1h-1zM680 411h1v2h-1zM681 413h1v1h-1zM682 414h1v1h-1zM683 415h1v2h-1zM684 417h1v1h-1zM685 418h1v2h-1zM686 420h1v1h-1zM687 421h1v2h-1zM688 423h1v1h-1zM689 424h1v2h-1zM690 426h1v1h-1zM691 427h1v2h-1zM692 429h1v1h-1zM693 430h1v1h-1zM694 431h1v2h-1zM695 433h1v1h-1zM696 434h1v2h-1zM697 436h1v1h-1zM698 437h1v1h-1zM699 438h1v2h-1zM700 440h1v1h-1zM701 441h1v1h-1zM702 442h1v2h-1zM703 444h1v1h-1zM704 445h1v1h-1zM705 446h1v2h-1zM706 448h1v1h-1zM707 449h1v1h-1zM708 450h1v1h-1zM709 451h1v1h-1zM710 452h1v2h-1zM711 454h1v1h-1zM712 455h1v1h-1zM713 456h1v1h-1zM714 457h1v1h-1zM715 458h1v1h-1zM716 459h1v1h-1zM717 460h1v1h-1zM718 461h2v1h-2zM720 462h1v1h-1zM721 463h1v1h-1zM722 464h1v1h-1zM723 465h1v1h-1zM724 466h1v1h-1zM725 467h1v1h-1zM726 468h1v2h-1zM727 470h1v1h-1zM728 471h1v1h-1zM729 472h1v1h-1zM730 473h1v1h-1zM731 474h1v1h-1zM732 475h1v1h-1zM733 476h1v1h-1zM734 477h1v1h-1zM735 478h1v1h-1zM736 479h1v1h-1zM737 480h1v1h-1zM738 481h1v1h-1zM739 482h1v1h-1zM740 483h2v1h-2zM742 484h1v1h-1zM743 485h1v1h-1zM744 486h2v1h-2zM746 487h2v1h-2zM748 488h2v1h-2zM750 489h3v1h-3zM753 490h3v1h-3zM756 491h4v1h-4zM760 492h12v1h-12zM772 493h2v1h-2zM774 494h3v1h-3zM777 495h3v1h-3zM780 494h2v1h-2zM782 493h3v1h-3zM785 492h2v1h-2zM787 491h2v1h-2zM789 490h2v1h-2zM791 489h2v1h-2zM793 488h2v1h-2zM795 487h2v1h-2zM797 486h2v1h-2zM799 485h2v1h-2zM801 484h2v1h-2zM803 483h2v1h-2zM805 482h2v1h-2zM807 481h2v1h-2zM809 480h5v1h-5zM814 481h22v1h-22zM836 480h4v1h-4zM840 479h6v1h-6zM846 478h16v1h-16zM862 477h16v1h-16zM878 476h6v1h-6zM884 475h4v1h-4zM888 474h6v1h-6zM894 475h16v1h-16zM910 476h6v1h-6zM916 475h4v1h-4zM920 474h4v1h-4zM924 473h4v1h-4zM928 472h6v1h-6zM934 471h16v1h-16zM950 472h8v1h-8zM958 473h5v1h-5zM963 474h2v1h-2zM965 475h2v1h-2zM967 476h2v1h-2zM969 477h2v1h-2zM971 478h2v1h-2zM973 479h1v1h-1zM974 480h2v1h-2zM976 481h2v1h-2zM978 482h2v1h-2zM980 483h4v1h-4zM984 484h6v1h-6zM990 485h14v1h-14zM1004 484h2v1h-2zM1006 483h3v1h-3zM1009 482h3v1h-3zM1012 481h2v1h-2zM1014 480h3v1h-3zM1017 479h3v1h-3zM1020 478h2v1h-2zM1022 477h3v1h-3zM1025 476h3v1h-3zM1028 475h2v1h-2zM1030 474h3v1h-3zM1033 473h3v1h-3zM1036 472h4v1h-4zM1040 471h4v1h-4zM1044 470h4v1h-4zM1048 469h4v1h-4zM1052 468h4v1h-4zM1056 467h4v1h-4zM1060 466h2v1h-2zM1062 465h3v1h-3zM1065 464h2v1h-2zM1067 463h1v1h-1zM1068 462h1v1h-1zM1069 461h1v1h-1zM1070 459h1v2h-1zM1071 458h1v1h-1zM1072 457h1v1h-1zM1073 456h1v1h-1zM1074 455h1v1h-1zM1075 454h1v1h-1zM1076 452h1v2h-1zM1077 451h1v1h-1zM1078 450h1v1h-1zM1079 449h1v1h-1zM1080 447h1v2h-1zM1081 446h1v1h-1zM1082 445h1v1h-1zM1083 443h1v2h-1zM1084 441h1v2h-1zM1085 439h1v2h-1zM1086 437h1v2h-1zM1087 435h1v2h-1zM1088 433h1v2h-1zM1089 432h1v1h-1zM1090 430h1v2h-1zM1091 428h1v2h-1zM1092 426h1v2h-1zM1093 424h1v2h-1zM1094 422h1v2h-1zM1095 420h1v2h-1zM1096 418h1v2h-1zM1097 416h1v2h-1zM1098 414h1v2h-1zM1099 413h1v1h-1zM1100 411h1v2h-1zM1101 409h1v2h-1zM1102 407h1v2h-1zM1103 405h1v2h-1zM1104 403h1v2h-1zM1105 401h1v2h-1zM1106 399h1v2h-1zM1107 397h1v2h-1zM1108 394h1v3h-1zM1109 392h1v2h-1zM1110 389h1v3h-1zM1111 387h1v2h-1zM1112 384h1v3h-1zM1113 382h1v2h-1zM1114 379h1v3h-1zM1115 376h1v3h-1zM1116 374h1v2h-1zM1117 371h1v3h-1zM1118 368h1v3h-1zM1119 365h1v3h-1zM1120 363h1v2h-1zM1121 360h1v3h-1zM1122 357h1v3h-1zM1123 355h1v2h-1zM1124 353h1v2h-1zM1125 351h1v2h-1zM1126 349h1v2h-1zM1127 347h1v2h-1zM1128 345h1v2h-1zM1129 343h1v2h-1zM1130 340h1v3h-1zM1131 337h1v3h-1zM1132 334h1v3h-1zM1133 331h1v3h-1zM1134 329h1v2h-1zM1135 326h1v3h-1zM1136 323h1v3h-1zM1137 320h1v3h-1zM1138 317h1v3h-1zM1139 314h1v3h-1zM1140 311h1v3h-1zM1141 308h1v3h-1zM1142 304h1v4h-1zM1143 301h1v3h-1zM1144 298h1v3h-1zM1145 295h1v3h-1zM1146 292h1v3h-1zM1147 289h1v3h-1zM1148 287h1v2h-1zM1149 284h1v3h-1zM1150 281h1v3h-1zM1151 278h1v3h-1zM1152 276h1v2h-1zM1153 273h1v3h-1zM1154 270h1v3h-1zM1155 268h1v2h-1zM1156 265h1v3h-1zM1157 262h1v3h-1zM1158 260h1v2h-1zM1159 257h1v3h-1zM1160 254h1v3h-1zM1161 252h1v2h-1zM1162 249h1v3h-1zM1163 246h1v3h-1zM1164 243h1v3h-1zM1165 240h1v3h-1zM1166 238h1v2h-1zM1167 235h1v3h-1zM1168 232h1v3h-1zM1169 229h1v3h-1zM1170 226h1v3h-1zM1171 224h1v2h-1zM1172 222h1v2h-1zM1173 219h1v3h-1zM1174 217h1v2h-1zM1175 214h1v3h-1zM1176 212h1v2h-1zM1177 210h1v2h-1zM1178 208h1v2h-1zM1179 206h1v2h-1zM1180 204h1v2h-1zM1181 202h1v2h-1zM1182 200h1v2h-1zM1183 198h1v2h-1zM1184 196h1v2h-1zM1185 194h1v2h-1zM1186 192h1v2h-1zM1187 190h1v2h-1zM1188 188h1v2h-1zM1189 186h1v2h-1zM1190 185h1v1h-1zM1191 183h1v2h-1zM1192 181h1v2h-1zM1193 179h1v2h-1zM1194 178h1v1h-1z" fill="#FF0000"/>
<path d="M44 113h1v1h-1zM45 114h1v1h-1zM46 115h1v2h-1zM47 117h1v1h-1zM48 118h1v1h-1zM49 119h1v2h-1zM50 121h1v1h-1zM51 122h1v1h-1zM52 123h1v1h-1zM53 124h1v2h-1zM54 126h1v1h-1zM55 127h1v1h-1zM56 128h1v2h-1zM57 130h1v1h-1zM58 131h1v1h-1zM59 132h1v1h-1zM60 133h1v1h-1zM61 134h1v1h-1zM62 135h1v1h-1zM63 136h1v1h-1zM64 137h1v1h-1zM65 138h1v1h-1zM66 139h1v1h-1zM67 140h1v1h-1zM68 141h1v1h-1zM69 142h1v1h-1zM70 143h1v2h-1zM71 145h1v1h-1zM72 146h1v1h-1zM73 147h1v1h-1zM74 148h1v1h-1zM75 147h1v1h-1zM76 146h1v1h-1zM77 145h1v1h-1zM78 143h1v2h-1zM79 142h1v1h-1zM80 141h1v1h-1zM81 140h1v1h-1zM82 139h1v1h-1zM83 137h1v2h-1zM84 135h1v2h-1zM85 134h1v1h-1zM86 132h1v2h-1zM87 131h1v1h-1zM88 129h1v2h-1zM89 127h1v2h-1zM90 126h1v1h-1zM91 125h1v1h-1zM92 124h2v1h-2zM94 123h1v1h-1zM95 122h1v1h-1zM96 121h2v1h-2zM98 120h2v1h-2zM100 119h2v1h-2zM102 118h3v1h-3zM105 117h13v1h-13zM118 118h8v1h-8zM126 119h5v1h-5zM131 120h1v1h-1zM132 121h1v1h-1zM133 122h1v1h-1zM134 123h1v2h-1zM135 125h1v1h-1zM136 126h1v1h-1zM137 127h1v1h-1zM138 128h2v1h-2zM140 129h2v1h-2zM142 130h3v1h-3zM145 131h10v1h-10zM155 130h2v1h-2zM157 129h2v1h-2zM159 128h2v1h-2zM161 127h2v1h-2zM163 126h1v1h-1zM164 125h1v1h-1zM165 124h1v1h-1zM166 123h1v1h-1zM167 122h1v1h-1zM168 121h1v1h-1zM169 120h1v1h-1zM170 119h4v1h-4zM174 118h6v1h-6zM180 119h4v1h-4zM184 120h3v1h-3zM187 119h2v1h-2zM189 118h1v1h-1zM190 117h2v1h-2zM192 116h2v1h-2zM194 115h1v1h-1zM195 116h1v2h-1zM196 118h1v2h-1zM197 120h1v2h-1zM198 122h1v1h-1zM199 123h1v2h-1zM200 125h1v2h-1zM201 127h1v2h-1zM202 129h1v2h-1zM203 131h1v2h-1zM204 133h1v3h-1zM205 136h1v3h-1zM206 139h1v2h-1zM207 141h1v3h-1zM208 144h1v3h-1zM209 147h1v2h-1zM210 149h1v3h-1zM211 152h1v2h-1zM212 154h1v2h-1zM213 156h1v2h-1zM214 158h1v3h-1zM215 161h1v2h-1zM216 163h1v2h-1zM217 165h1v2h-1zM218 167h1v2h-1zM219 169h1v2h-1zM220 171h1v2h-1zM221 173h1v2h-1zM222 175h1v2h-1zM223 177h1v2h-1zM224 179h1v2h-1zM225 181h1v2h-1zM226 183h1v2h-1zM227 185h1v2h-1zM228 187h1v2h-1zM229 189h1v1h-1zM230 190h1v2h-1zM231 192h1v1h-1zM232 193h1v2h-1zM233 195h1v2h-1zM234 197h1v1h-1zM235 198h2v1h-2zM237 199h2v1h-2zM239 200h2v1h-2zM241 201h2v1h-2zM243 202h1v2h-1zM244 204h1v2h-1zM245 206h1v2h-1zM246 208h1v1h-1zM247 209h1v2h-1zM248 211h1v2h-1zM249 213h1v2h-1zM250 215h9v1h-9zM259 214h1v1h-1zM260 213h2v1h-2zM262 212h1v1h-1zM263 211h1v1h-1zM264 210h2v1h-2zM266 209h1v1h-1zM267 208h1v1h-1zM268 207h1v1h-1zM269 206h1v1h-1zM270 204h1v2h-1zM271 203h1v1h-1zM272 202h1v1h-1zM273 201h1v1h-1zM274 200h2v1h-2zM276 199h2v1h-2zM278 198h3v1h-3zM281 197h3v1h-3zM284 196h4v1h-4zM288 195h4v1h-4zM292 196h2v1h-2zM294 197h3v1h-3zM297 198h10v1h-10zM307 196h1v2h-1zM308 195h1v1h-1zM309 193h1v2h-1zM310 192h1v1h-1zM311 190h1v2h-1zM312 189h1v1h-1zM313 187h1v2h-1zM314 186h1v1h-1zM315 185h2v1h-2zM317 184h2v1h-2zM319 183h2v1h-2zM321 182h3v1h-3zM324 183h4v1h-4zM328 184h6v1h-6zM334 185h5v1h-5zM339 186h2v1h-2zM341 187h2v1h-2zM343 188h2v1h-2zM345 189h2v1h-2zM347 190h2v1h-2zM349 191h2v1h-2zM351 192h2v1h-2zM353 193h2v1h-2zM355 194h1v1h-1zM356 195h2v1h-2zM358 196h1v1h-1zM359 197h1v1h-1zM360 198h2v1h-2zM362 199h1v1h-1zM363 200h1v2h-1zM364 202h1v1h-1zM365 203h1v2h-1zM366 205h1v1h-1zM367 206h1v2h-1zM368 208h1v1h-1zM369 209h1v2h-1zM370 211h2v1h-2zM372 212h2v1h-2zM374 213h3v1h-3zM377 214h2v1h-2zM379 215h2v1h-2zM381 216h2v1h-2zM383 217h2v1h-2zM385 218h2v1h-2zM387 219h1v1h-1zM388 220h1v1h-1zM389 221h1v1h-1zM390 222h2v1h-2zM392 223h1v1h-1zM393 224h1v1h-1zM394 225h1v1h-1zM395 226h1v1h-1zM396 227h1v1h-1zM397 228h1v1h-1zM398 229h2v1h-2zM400 230h1v1h-1zM401 231h1v1h-1zM402 232h1v1h-1zM403 233h1v1h-1zM404 234h2v1h-2zM406 235h1v1h-1zM407 236h1v1h-1zM408 237h2v1h-2zM410 238h1v1h-1zM411 239h1v2h-1zM412 241h1v2h-1zM413 243h1v2h-1zM414 245h1v1h-1zM415 246h1v2h-1zM416 248h1v2h-1zM417 250h1v2h-1zM418 252h1v2h-1zM419 254h1v2h-1zM420 256h1v2h-1zM421 258h1v2h-1zM422 260h1v2h-1zM423 262h1v2h-1zM424 264h1v2h-1zM425 266h1v2h-1zM426 268h1v3h-1zM427 271h1v4h-1zM428 275h1v3h-1zM429 278h1v3h-1zM430 281h1v4h-1zM431 285h1v3h-1zM432 288h1v3h-1zM433 291h1v4h-1zM434 295h1v3h-1zM435 298h1v4h-1zM436 302h1v3h-1zM437 305h1v4h-1zM438 309h1v3h-1zM439 312h1v4h-1zM440 316h1v3h-1zM441 319h1v3h-1zM442 322h1v3h-1zM443 325h1v3h-1zM444 328h1v2h-1zM445 330h1v3h-1zM446 333h1v3h-1zM447 336h1v3h-1zM448 339h1v3h-1zM449 342h1v3h-1zM450 345h1v2h-1zM451 347h1v3h-1zM452 350h1v3h-1zM453 353h1v3h-1zM454 356h1v2h-1zM455 358h1v3h-1zM456 361h1v3h-1zM457 364h1v2h-1zM458 366h1v3h-1zM459 369h1v2h-1zM460 371h1v3h-1zM461 374h1v2h-1zM462 376h1v3h-1zM463 379h1v2h-1zM464 381h1v2h-1zM465 383h1v2h-1zM466 385h4v1h-4zM470 386h6v1h-6zM476 385h2v1h-2zM478 384h3v1h-3zM481 383h2v1h-2zM483 381h1v2h-1zM484 380h1v1h-1zM485 378h1v2h-1zM486 377h1v1h-1zM487 375h1v2h-1zM488 374h1v1h-1zM489 372h1v2h-1zM490 371h1v1h-1zM491 370h1v1h-1zM492 369h1v1h-1zM493 368h1v1h-1zM494 367h1v1h-1zM495 366h1v1h-1zM496 365h1v1h-1zM497 364h1v1h-1zM498 363h1v1h-1zM499 362h1v1h-1zM500 361h1v1h-1zM501 360h1v1h-1zM502 359h2v1h-2zM504 358h1v1h-1zM505 357h1v1h-1zM506 356h2v1h-2zM508 357h4v1h-4zM512 358h3v1h-3zM515 359h2v1h-2zM517 360h1v1h-1zM518 361h2v1h-2zM520 362h2v1h-2zM522 363h1v1h-1zM523 364h1v1h-1zM524 365h1v2h-1zM525 367h1v1h-1zM526 368h1v1h-1zM527 369h1v1h-1zM528 370h1v2h-1zM529 372h1v1h-1zM530 373h1v2h-1zM531 375h1v3h-1zM532 378h1v3h-1zM533 381h1v3h-1zM534 384h1v3h-1zM535 387h1v4h-1zM536 391h1v3h-1zM537 394h1v4h-1zM538 398h1v3h-1zM539 401h1v3h-1zM540 404h1v2h-1zM541 406h1v3h-1zM542 409h1v3h-1zM543 412h1v3h-1zM544 415h1v2h-1zM545 417h1v3h-1zM546 420h1v2h-1zM547 422h1v1h-1zM548 423h1v1h-1zM549 424h1v1h-1zM550 425h1v2h-1zM551 427h1v1h-1zM552 428h1v1h-1zM553 429h1v1h-1zM554 430h1v1h-1zM555 431h2v1h-2zM557 432h2v1h-2zM559 433h12v1h-12zM571 432h2v1h-2zM573 431h1v1h-1zM574 430h2v1h-2zM576 429h2v1h-2zM578 428h1v1h-1zM579 427h1v1h-1zM580 426h1v1h-1zM581 425h1v1h-1zM582 424h1v1h-1zM583 423h1v1h-1zM584 422h1v1h-1zM585 421h1v1h-1zM586 419h1v2h-1zM587 417h1v2h-1zM588 415h1v2h-1zM589 413h1v2h-1zM590 411h1v2h-1zM591 409h1v2h-1zM592 407h1v2h-1zM593 405h1v2h-1zM594 402h1v3h-1zM595 399h1v3h-1zM596 397h1v2h-1zM597 394h1v3h-1zM598 391h1v3h-1zM599 388h1v3h-1zM600 386h1v2h-1zM601 383h1v3h-1zM602 382h1v1h-1zM602 381h2v1h-2zM604 380h2v1h-2zM606 379h3v1h-3zM609 378h3v1h-3zM612 377h4v1h-4zM616 376h3v1h-3zM619 375h2v1h-2zM621 374h1v1h-1zM622 373h2v1h-2zM624 372h2v1h-2zM626 371h4v1h-4zM630 372h6v1h-6zM636 373h2v1h-2zM638 374h3v1h-3zM641 375h2v1h-2zM643 376h1v1h-1zM644 377h1v1h-1zM645 378h1v1h-1zM646 379h1v2h-1zM647 381h1v1h-1zM648 382h1v1h-1zM649 383h1v1h-1zM650 384h1v2h-1zM651 386h1v2h-1zM652 388h1v2h-1zM653 390h1v3h-1zM654 393h1v2h-1zM655 395h1v3h-1zM656 398h1v2h-1zM657 400h1v2h-1zM658 402h1v2h-1zM659 404h1v2h-1zM660 406h1v1h-1zM661 407h1v1h-1zM662 408h1v2h-1zM663 410h1v1h-1zM664 411h1v1h-1zM665 412h1v2h-1zM666 414h1v2h-1zM667 416h1v2h-1zM668 418h1v2h-1zM669 420h1v3h-1zM670 423h1v2h-1zM671 425h1v3h-1zM672 428h1v2h-1zM673 430h1v2h-1zM674 432h1v3h-1zM675 435h1v4h-1zM676 439h1v3h-1zM677 442h1v2h-1zM678 444h1v3h-1zM679 447h1v3h-1zM680 450h1v2h-1zM681 452h1v3h-1zM682 455h1v3h-1zM683 458h1v2h-1zM684 460h1v3h-1zM685 463h1v3h-1zM686 466h1v2h-1zM687 468h1v3h-1zM688 471h1v3h-1zM689 474h1v2h-1zM690 476h1v3h-1zM691 479h1v3h-1zM692 482h1v2h-1zM693 484h1v3h-1zM694 487h1v3h-1zM695 490h1v3h-1zM696 493h1v2h-1zM697 495h1v3h-1zM698 498h1v2h-1zM699 500h1v1h-1zM700 501h1v2h-1zM701 503h1v1h-1zM702 504h1v1h-1zM703 505h1v1h-1zM704 506h1v2h-1zM705 508h1v1h-1zM706 509h9v1h-9zM715 510h2v1h-2zM717 511h2v1h-2zM719 512h2v1h-2zM721 513h5v1h-5zM726 512h5v1h-5zM731 511h1v1h-1zM732 510h2v1h-2zM734 509h1v1h-1zM735 508h1v1h-1zM736 507h2v1h-2zM738 506h1v1h-1zM739 504h1v2h-1zM740 503h1v1h-1zM741 501h1v2h-1zM742 500h1v1h-1zM743 498h1v2h-1zM744 497h1v1h-1zM745 495h1v2h-1zM746 494h1v1h-1zM747 492h1v2h-1zM748 491h1v1h-1zM749 490h1v1h-1zM750 488h1v2h-1zM751 487h1v1h-1zM752 486h1v1h-1zM753 484h1v2h-1zM754 483h1v1h-1zM755 482h1v1h-1zM756 481h1v1h-1zM757 480h1v1h-1zM758 478h1v2h-1zM759 477h1v1h-1zM760 476h1v1h-1zM761 475h1v1h-1zM762 474h2v1h-2zM764 475h4v1h-4zM768 476h6v1h-6zM774 477h5v1h-5zM779 476h2v1h-2zM781 475h1v1h-1zM782 474h2v1h-2zM784 473h2v1h-2zM786 472h4v1h-4zM790 473h6v1h-6zM796 474h4v1h-4zM800 475h4v1h-4zM804 476h2v1h-2zM806 477h3v1h-3zM809 478h2v1h-2zM811 479h1v2h-1zM812 481h1v1h-1zM813 482h1v1h-1zM814 483h1v2h-1zM815 485h1v1h-1zM816 486h1v1h-1zM817 487h1v2h-1zM818 489h9v1h-9zM827 488h2v1h-2zM829 487h1v1h-1zM830 486h2v1h-2zM832 485h2v1h-2zM834 484h4v1h-4zM838 485h8v1h-8zM846 484h5v1h-5zM851 483h2v1h-2zM853 482h2v1h-2zM855 481h2v1h-2zM857 480h3v1h-3zM860 479h2v1h-2zM862 478h3v1h-3zM865 477h2v1h-2zM867 476h1v1h-1zM868 474h1v2h-1zM869 473h1v1h-1zM870 472h1v1h-1zM871 471h1v1h-1zM872 469h1v2h-1zM873 468h1v1h-1zM874 467h2v1h-2zM876 466h2v1h-2zM878 465h3v1h-3zM881 464h13v1h-13zM894 465h8v1h-8zM902 466h5v1h-5zM907 467h1v1h-1zM908 468h2v1h-2zM910 469h1v1h-1zM911 470h1v1h-1zM912 471h2v1h-2zM914 472h1v1h-1zM915 473h2v1h-2zM917 474h2v1h-2zM919 475h2v1h-2zM921 476h5v1h-5zM926 477h8v1h-8zM934 478h8v1h-8zM942 477h6v1h-6zM948 478h4v1h-4zM952 479h4v1h-4zM956 480h4v1h-4zM960 481h6v1h-6zM966 480h5v1h-5zM971 481h1v1h-1zM972 482h1v1h-1zM973 483h1v1h-1zM974 484h1v1h-1zM975 485h1v1h-1zM976 486h1v1h-1zM977 487h1v1h-1zM978 488h1v1h-1zM979 489h2v1h-2zM981 490h1v1h-1zM982 491h2v1h-2zM984 492h2v1h-2zM986 493h17v1h-17zM1003 492h1v1h-1zM1004 491h1v1h-1zM1005 490h1v1h-1zM1006 489h2v1h-2zM1008 488h1v1h-1zM1009 487h1v1h-1zM1010 486h1v1h-1zM1011 485h1v1h-1zM1012 484h1v1h-1zM1013 483h1v1h-1zM1014 482h1v1h-1zM1015 481h1v1h-1zM1016 480h1v1h-1zM1017 479h1v1h-1zM1018 478h1v1h-1zM1019 477h1v1h-1zM1020 476h1v1h-1zM1021 475h1v1h-1zM1022 474h2v1h-2zM1024 473h1v1h-1zM1025 472h1v1h-1zM1026 471h1v1h-1zM1027 469h1v2h-1zM1028 467h1v2h-1zM1029 466h1v1h-1zM1030 464h1v2h-1zM1031 463h1v1h-1zM1032 461h1v2h-1zM1033 459h1v2h-1zM1034 458h1v1h-1zM1035 457h1v1h-1zM1036 456h1v1h-1zM1037 455h1v1h-1zM1038 454h1v1h-1zM1039 453h1v1h-1zM1040 452h1v1h-1zM1041 451h1v1h-1zM1042 450h1v1h-1zM1043 449h2v1h-2zM1045 448h2v1h-2zM1047 447h2v1h-2zM1049 446h2v1h-2zM1051 445h2v1h-2zM1053 444h1v1h-1zM1054 443h2v1h-2zM1056 442h2v1h-2zM1058 441h4v1h-4zM1062 440h5v1h-5zM1067 439h1v1h-1zM1068 438h1v1h-1zM1069 437h1v1h-1zM1070 436h1v1h-1zM1071 435h1v1h-1zM1072 434h1v1h-1zM1073 433h1v1h-1zM1074 432h1v1h-1zM1075 430h1v2h-1zM1076 428h1v2h-1zM1077 426h1v2h-1zM1078 424h1v2h-1zM1079 422h1v2h-1zM1080 420h1v2h-1zM1081 418h1v2h-1zM1082 417h1v1h-1zM1083 415h1v2h-1zM1084 413h1v2h-1zM1085 411h1v2h-1zM1086 410h1v1h-1zM1087 408h1v2h-1zM1088 406h1v2h-1zM1089 404h1v2h-1zM1090 402h1v2h-1zM1091 400h1v2h-1zM1092 397h1v3h-1zM1093 395h1v2h-1zM1094 392h1v3h-1zM1095 389h1v3h-1zM1096 387h1v2h-1zM1097 384h1v3h-1zM1098 381h1v3h-1zM1099 377h1v4h-1zM1100 374h1v3h-1zM1101 370h1v4h-1zM1102 367h1v3h-1zM1103 363h1v4h-1zM1104 360h1v3h-1zM1105 356h1v4h-1zM1106 352h1v4h-1zM1107 347h1v5h-1zM1108 342h1v5h-1zM1109 337h1v5h-1zM1110 333h1v4h-1zM1111 328h1v5h-1zM1112 323h1v5h-1zM1113 318h1v5h-1zM1114 313h1v5h-1zM1115 308h1v5h-1zM1116 303h1v5h-1zM1117 298h1v5h-1zM1118 293h1v5h-1zM1119 288h1v5h-1zM1120 283h1v5h-1zM1121 278h1v5h-1zM1122 274h1v4h-1zM1123 270h1v4h-1zM1124 266h1v4h-1zM1125 263h1v3h-1zM1126 259h1v4h-1zM1127 256h1v3h-1zM1128 252h1v4h-1zM1129 248h1v4h-1zM1130 245h1v3h-1zM1131 241h1v4h-1zM1132 237h1v4h-1zM1133 234h1v3h-1zM1134 230h1v4h-1zM1135 227h1v3h-1zM1136 223h1v4h-1zM1137 219h1v4h-1zM1138 215h1v4h-1zM1139 211h1v4h-1zM1140 207h1v4h-1zM1141 203h1v4h-1zM1142 199h1v4h-1zM1143 195h1v4h-1zM1144 191h1v4h-1zM1145 187h1v4h-1zM1146 183h1v4h-1zM1147 180h1v3h-1zM1148 177h1v3h-1zM1149 174h1v3h-1zM1150 171h1v3h-1zM1151 168h1v3h-1zM1152 165h1v3h-1zM1153 162h1v3h-1zM1154 159h1v3h-1zM1155 157h1v2h-1zM1156 155h1v2h-1zM1157 153h1v2h-1zM1158 151h1v2h-1zM1159 149h1v2h-1zM1160 147h1v2h-1zM1161 145h1v2h-1zM1162 143h1v2h-1zM1163 142h2v1h-2zM1165 141h2v1h-2zM1167 140h2v1h-2zM1169 139h2v1h-2zM1171 138h2v1h-2zM1173 137h2v1h-2zM1175 136h2v1h-2zM1177 135h3v1h-3zM1180 134h4v1h-4zM1184 133h3v1h-3zM1187 134h1v1h-1zM1188 135h1v1h-1zM1189 136h1v1h-1zM1190 137h2v1h-2zM1192 138h1v1h-1zM1193 139h1v1h-1zM1194 140h1v1h-1z" fill="#0000CD"/>
<rect x="369" y="241" width="889" height="6" fill="#9ACD00"/>
<rect x="375" y="434" width="881" height="6" fill="#3A90E0"/>
</g>
<rect x="2" y="609" width="1" height="22" fill="#c0c0c0"/>
<rect x="10" y="607" width="1" height="24" fill="#c0c0c0"/>
<rect x="18" y="606" width="1" height="25" fill="#c0c0c0"/>
<rect x="26" y="610" width="1" height="21" fill="#c0c0c0"/>
<rect x="34" y="616" width="1" height="15" fill="#c0c0c0"/>
<rect x="42" y="619" width="1" height="12" fill="#c0c0c0"/>
<rect x="50" y="621" width="1" height="10" fill="#c0c0c0"/>
<rect x="58" y="623" width="1" height="8" fill="#c0c0c0"/>
<rect x="66" y="623" width="1" height="8" fill="#c0c0c0"/>
<rect x="74" y="622" width="1" height="9" fill="#c0c0c0"/>
<rect x="82" y="621" width="1" height="10" fill="#c0c0c0"/>
<rect x="90" y="621" width="1" height="10" fill="#c0c0c0"/>
<rect x="98" y="620" width="1" height="11" fill="#c0c0c0"/>
<rect x="106" y="623" width="1" height="8" fill="#c0c0c0"/>
<rect x="114" y="625" width="1" height="6" fill="#c0c0c0"/>
<rect x="122" y="626" width="1" height="5" fill="#c0c0c0"/>
<rect x="130" y="625" width="1" height="6" fill="#c0c0c0"/>
<rect x="138" y="626" width="1" height="5" fill="#c0c0c0"/>
<rect x="146" y="627" width="1" height="4" fill="#c0c0c0"/>
<rect x="154" y="627" width="1" height="4" fill="#c0c0c0"/>
<rect x="162" y="626" width="1" height="5" fill="#c0c0c0"/>
<rect x="170" y="625" width="1" height="6" fill="#c0c0c0"/>
<rect x="178" y="625" width="1" height="6" fill="#c0c0c0"/>
<rect x="186" y="627" width="1" height="4" fill="#c0c0c0"/>
<rect x="194" y="626" width="1" height="5" fill="#c0c0c0"/>
<rect x="202" y="630" width="1" height="1" fill="#c0c0c0"/>
<rect x="210" y="630" width="1" height="8" fill="#c0c0c0"/>
<rect x="218" y="630" width="1" height="11" fill="#c0c0c0"/>
<rect x="226" y="630" width="1" height="13" fill="#c0c0c0"/>
<rect x="234" y="630" width="1" height="14" fill="#c0c0c0"/>
<rect x="242" y="630" width="1" height="12" fill="#c0c0c0"/>
<rect x="250" y="630" width="1" height="12" fill="#c0c0c0"/>
<rect x="258" y="630" width="1" height="14" fill="#c0c0c0"/>
<rect x="266" y="630" width="1" height="14" fill="#c0c0c0"/>
<rect x="274" y="630" width="1" height="13" fill="#c0c0c0"/>
<rect x="282" y="630" width="1" height="12" fill="#c0c0c0"/>
<rect x="290" y="630" width="1" height="12" fill="#c0c0c0"/>
<rect x="298" y="630" width="1" height="10" fill="#c0c0c0"/>
<rect x="306" y="630" width="1" height="9" fill="#c0c0c0"/>
<rect x="314" y="630" width="1" height="7" fill="#c0c0c0"/>
<rect x="322" y="630" width="1" height="7" fill="#c0c0c0"/>
<rect x="330" y="630" width="1" height="7" fill="#c0c0c0"/>
<rect x="338" y="630" width="1" height="7" fill="#c0c0c0"/>
<rect x="346" y="630" width="1" height="8" fill="#c0c0c0"/>
<rect x="354" y="630" width="1" height="9" fill="#c0c0c0"/>
<rect x="362" y="630" width="1" height="9" fill="#c0c0c0"/>
<rect x="370" y="630" width="1" height="11" fill="#c0c0c0"/>
<rect x="378" y="630" width="1" height="11" fill="#c0c0c0"/>
<rect x="386" y="630" width="1" height="11" fill="#c0c0c0"/>
<rect x="394" y="630" width="1" height="11" fill="#c0c0c0"/>
<rect x="402" y="630" width="1" height="13" fill="#c0c0c0"/>
<rect x="410" y="630" width="1" height="14" fill="#c0c0c0"/>
<rect x="418" y="630" width="1" height="18" fill="#c0c0c0"/>
<rect x="426" y="630" width="1" height="23" fill="#c0c0c0"/>
<rect x="434" y="630" width="1" height="28" fill="#c0c0c0"/>
<rect x="442" y="630" width="1" height="33" fill="#c0c0c0"/>
<rect x="450" y="630" width="1" height="35" fill="#c0c0c0"/>
<rect x="458" y="630" width="1" height="37" fill="#c0c0c0"/>
<rect x="466" y="630" width="1" height="37" fill="#c0c0c0"/>
<rect x="474" y="630" width="1" height="34" fill="#c0c0c0"/>
<rect x="482" y="630" width="1" height="32" fill="#c0c0c0"/>
<rect x="490" y="630" width="1" height="28" fill="#c0c0c0"/>
<rect x="498" y="630" width="1" height="27" fill="#c0c0c0"/>
<rect x="506" y="630" width="1" height="26" fill="#c0c0c0"/>
<rect x="514" y="630" width="1" height="28" fill="#c0c0c0"/>
<rect x="522" y="630" width="1" height="29" fill="#c0c0c0"/>
<rect x="530" y="630" width="1" height="30" fill="#c0c0c0"/>
<rect x="538" y="630" width="1" height="34" fill="#c0c0c0"/>
<rect x="546" y="630" width="1" height="37" fill="#c0c0c0"/>
<rect x="554" y="630" width="1" height="34" fill="#c0c0c0"/>
<rect x="562" y="630" width="1" height="30" fill="#c0c0c0"/>
<rect x="570" y="630" width="1" height="29" fill="#c0c0c0"/>
<rect x="578" y="630" width="1" height="25" fill="#c0c0c0"/>
<rect x="586" y="630" width="1" height="22" fill="#c0c0c0"/>
<rect x="594" y="630" width="1" height="19" fill="#c0c0c0"/>
<rect x="602" y="630" width="1" height="15" fill="#c0c0c0"/>
<rect x="610" y="630" width="1" height="15" fill="#c0c0c0"/>
<rect x="618" y="630" width="1" height="13" fill="#c0c0c0"/>
<rect x="626" y="630" width="1" height="11" fill="#c0c0c0"/>
<rect x="634" y="630" width="1" height="11" fill="#c0c0c0"/>
<rect x="642" y="630" width="1" height="11" fill="#c0c0c0"/>
<rect x="650" y="630" width="1" height="13" fill="#c0c0c0"/>
<rect x="658" y="630" width="1" height="15" fill="#c0c0c0"/>
<rect x="666" y="630" width="1" height="18" fill="#c0c0c0"/>
<rect x="674" y="630" width="1" height="21" fill="#c0c0c0"/>
<rect x="682" y="630" width="1" height="25" fill="#c0c0c0"/>
<rect x="690" y="630" width="1" height="27" fill="#c0c0c0"/>
<rect x="698" y="630" width="1" height="29" fill="#c0c0c0"/>
<rect x="706" y="630" width="1" height="29" fill="#c0c0c0"/>
<rect x="714" y="630" width="1" height="27" fill="#c0c0c0"/>
<rect x="722" y="630" width="1" height="25" fill="#c0c0c0"/>
<rect x="730" y="630" width="1" height="25" fill="#c0c0c0"/>
<rect x="738" y="630" width="1" height="24" fill="#c0c0c0"/>
<rect x="746" y="630" width="1" height="20" fill="#c0c0c0"/>
<rect x="754" y="630" width="1" height="18" fill="#c0c0c0"/>
<rect x="762" y="630" width="1" height="16" fill="#c0c0c0"/>
<rect x="770" y="630" width="1" height="16" fill="#c0c0c0"/>
<rect x="778" y="630" width="1" height="16" fill="#c0c0c0"/>
<rect x="786" y="630" width="1" height="14" fill="#c0c0c0"/>
<rect x="794" y="630" width="1" height="14" fill="#c0c0c0"/>
<rect x="802" y="630" width="1" height="12" fill="#c0c0c0"/>
<rect x="810" y="630" width="1" height="11" fill="#c0c0c0"/>
<rect x="818" y="630" width="1" height="13" fill="#c0c0c0"/>
<rect x="826" y="630" width="1" height="13" fill="#c0c0c0"/>
<rect x="834" y="630" width="1" height="11" fill="#c0c0c0"/>
<rect x="842" y="630" width="1" height="10" fill="#c0c0c0"/>
<rect x="850" y="630" width="1" height="9" fill="#c0c0c0"/>
<rect x="858" y="630" width="1" height="6" fill="#c0c0c0"/>
<rect x="866" y="630" width="1" height="5" fill="#c0c0c0"/>
<rect x="874" y="630" width="1" height="4" fill="#c0c0c0"/>
<rect x="882" y="630" width="1" height="4" fill="#c0c0c0"/>
<rect x="890" y="630" width="1" height="3" fill="#c0c0c0"/>
<rect x="898" y="630" width="1" height="4" fill="#c0c0c0"/>
<rect x="906" y="630" width="1" height="4" fill="#c0c0c0"/>
<rect x="914" y="630" width="1" height="5" fill="#c0c0c0"/>
<rect x="922" y="630" width="1" height="5" fill="#c0c0c0"/>
<rect x="930" y="630" width="1" height="4" fill="#c0c0c0"/>
<rect x="938" y="630" width="1" height="4" fill="#c0c0c0"/>
<rect x="946" y="630" width="1" height="3" fill="#c0c0c0"/>
<rect x="954" y="630" width="1" height="4" fill="#c0c0c0"/>
<rect x="962" y="630" width="1" height="5" fill="#c0c0c0"/>
<rect x="970" y="630" width="1" height="5" fill="#c0c0c0"/>
<rect x="978" y="630" width="1" height="7" fill="#c0c0c0"/>
<rect x="986" y="630" width="1" height="7" fill="#c0c0c0"/>
<rect x="994" y="630" width="1" height="6" fill="#c0c0c0"/>
<rect x="1002" y="630" width="1" height="5" fill="#c0c0c0"/>
<rect x="1010" y="630" width="1" height="3" fill="#c0c0c0"/>
<rect x="1018" y="630" width="1" height="2" fill="#c0c0c0"/>
<rect x="1026" y="629" width="1" height="2" fill="#c0c0c0"/>
<rect x="1034" y="627" width="1" height="4" fill="#c0c0c0"/>
<rect x="1042" y="627" width="1" height="4" fill="#c0c0c0"/>
<rect x="1050" y="627" width="1" height="4" fill="#c0c0c0"/>
<rect x="1058" y="626" width="1" height="5" fill="#c0c0c0"/>
<rect x="1066" y="625" width="1" height="6" fill="#c0c0c0"/>
<rect x="1074" y="621" width="1" height="10" fill="#c0c0c0"/>
<rect x="1082" y="618" width="1" height="13" fill="#c0c0c0"/>
<rect x="1090" y="614" width="1" height="17" fill="#c0c0c0"/>
<rect x="1098" y="609" width="1" height="22" fill="#c0c0c0"/>
<rect x="1106" y="604" width="1" height="27" fill="#c0c0c0"/>
<rect x="1114" y="596" width="1" height="35" fill="#c0c0c0"/>
<rect x="1122" y="590" width="1" height="41" fill="#c0c0c0"/>
<rect x="1130" y="586" width="1" height="45" fill="#c0c0c0"/>
<rect x="1138" y="581" width="1" height="50" fill="#c0c0c0"/>
<rect x="1146" y="577" width="1" height="54" fill="#c0c0c0"/>
<rect x="1154" y="576" width="1" height="55" fill="#c0c0c0"/>
<rect x="1162" y="575" width="1" height="56" fill="#c0c0c0"/>
<rect x="1170" y="575" width="1" height="56" fill="#c0c0c0"/>
<rect x="1178" y="576" width="1" height="55" fill="#c0c0c0"/>
<rect x="1186" y="580" width="1" height="51" fill="#c0c0c0"/>
<rect x="1194" y="582" width="1" height="49" fill="#c0c0c0"/>
<path d="M2 609h3v1h-3zM8 608h3v1h-3zM14 608h3v1h-3zM20 608h3v1h-3zM26 608h3v1h-3zM32 608h3v1h-3zM38 609h3v1h-3zM44 610h3v1h-3zM50 611h3v1h-3zM56 612h3v1h-3zM62 613h3v1h-3zM68 614h3v1h-3zM74 615h3v1h-3zM80 617h3v1h-3zM86 618h3v1h-3zM92 619h3v1h-3zM98 620h3v1h-3zM104 621h3v1h-3zM110 621h3v1h-3zM116 621h3v1h-3zM122 622h3v1h-3zM128 622h3v1h-3zM134 622h3v1h-3zM140 622h3v1h-3zM146 623h3v1h-3zM152 624h3v1h-3zM158 624h3v1h-3zM164 624h3v1h-3zM170 625h3v1h-3zM176 625h3v1h-3zM182 625h3v1h-3zM188 625h3v1h-3zM194 625h3v1h-3zM200 626h3v1h-3zM206 626h3v1h-3zM212 627h3v1h-3zM218 628h2v1h-2zM220 629h1v1h-1zM224 630h1v1h-1zM225 631h2v1h-2zM230 632h2v1h-2zM232 633h1v1h-1zM236 633h2v1h-2zM238 634h1v1h-1zM242 634h2v1h-2zM244 635h1v1h-1zM248 636h3v1h-3zM254 637h3v1h-3zM260 638h3v1h-3zM266 639h2v1h-2zM268 640h1v1h-1zM272 641h3v1h-3zM278 642h3v1h-3zM284 642h3v1h-3zM290 642h3v1h-3zM296 642h3v1h-3zM302 641h3v1h-3zM308 641h3v1h-3zM314 641h3v1h-3zM320 640h3v1h-3zM326 639h3v1h-3zM332 639h2v1h-2zM334 638h1v1h-1zM338 638h3v1h-3zM344 638h3v1h-3zM350 637h3v1h-3zM356 637h3v1h-3zM362 637h3v1h-3zM368 637h3v1h-3zM374 637h3v1h-3zM380 637h2v1h-2zM382 638h1v1h-1zM386 638h3v1h-3zM392 638h3v1h-3zM398 639h3v1h-3zM404 639h2v1h-2zM406 640h1v1h-1zM410 640h3v1h-3zM416 641h3v1h-3zM422 642h3v1h-3zM428 643h2v1h-2zM430 644h1v1h-1zM434 645h2v1h-2zM436 646h1v1h-1zM440 647h1v1h-1zM441 648h2v1h-2zM446 649h2v1h-2zM448 650h1v1h-1zM452 651h2v1h-2zM454 652h1v1h-1zM458 653h2v1h-2zM460 654h1v1h-1zM464 655h3v1h-3zM470 657h3v1h-3zM476 659h3v1h-3zM482 660h3v1h-3zM488 661h3v1h-3zM494 661h3v1h-3zM500 661h3v1h-3zM506 661h3v1h-3zM512 661h3v1h-3zM518 660h3v1h-3zM524 660h2v1h-2zM526 659h1v1h-1zM530 659h3v1h-3zM536 659h3v1h-3zM542 659h3v1h-3zM548 659h3v1h-3zM554 659h3v1h-3zM560 660h3v1h-3zM566 660h3v1h-3zM572 660h3v1h-3zM578 660h3v1h-3zM584 659h3v1h-3zM590 658h3v1h-3zM596 658h2v1h-2zM598 657h1v1h-1zM602 657h2v1h-2zM604 656h1v1h-1zM608 655h1v1h-1zM609 654h2v1h-2zM614 653h3v1h-3zM620 652h2v1h-2zM622 651h1v1h-1zM626 650h2v1h-2zM628 649h1v1h-1zM632 648h3v1h-3zM638 647h2v1h-2zM640 646h1v1h-1zM644 645h3v1h-3zM650 644h3v1h-3zM656 643h3v1h-3zM662 643h3v1h-3zM668 643h3v1h-3zM674 643h3v1h-3zM680 644h3v1h-3zM686 645h3v1h-3zM692 646h2v1h-2zM694 647h1v1h-1zM698 648h2v1h-2zM700 649h1v1h-1zM704 650h3v1h-3zM710 651h3v1h-3zM716 651h2v1h-2zM718 652h1v1h-1zM722 652h2v1h-2zM724 653h1v1h-1zM728 654h3v1h-3zM734 655h3v1h-3zM740 655h3v1h-3zM746 655h3v1h-3zM752 654h3v1h-3zM758 653h3v1h-3zM764 652h3v1h-3zM770 651h3v1h-3zM776 650h3v1h-3zM782 649h2v1h-2zM784 648h1v1h-1zM788 648h2v1h-2zM790 647h1v1h-1zM794 647h2v1h-2zM796 646h1v1h-1zM800 645h3v1h-3zM806 644h3v1h-3zM812 644h2v1h-2zM814 643h1v1h-1zM818 643h3v1h-3zM824 643h3v1h-3zM830 642h3v1h-3zM836 642h3v1h-3zM842 642h3v1h-3zM848 641h3v1h-3zM854 640h3v1h-3zM860 640h2v1h-2zM862 639h1v1h-1zM866 639h3v1h-3zM872 638h3v1h-3zM878 637h3v1h-3zM884 637h2v1h-2zM886 636h1v1h-1zM890 636h3v1h-3zM896 635h3v1h-3zM902 634h3v1h-3zM908 634h3v1h-3zM914 634h3v1h-3zM920 633h3v1h-3zM926 633h3v1h-3zM932 633h3v1h-3zM938 633h3v1h-3zM944 633h3v1h-3zM950 633h3v1h-3zM956 633h3v1h-3zM962 633h3v1h-3zM968 633h3v1h-3zM974 633h3v1h-3zM980 633h2v1h-2zM982 634h1v1h-1zM986 634h3v1h-3zM992 634h3v1h-3zM998 634h3v1h-3zM1004 634h3v1h-3zM1010 634h3v1h-3zM1016 633h3v1h-3zM1022 633h3v1h-3zM1028 633h2v1h-2zM1030 632h1v1h-1zM1034 632h3v1h-3zM1040 631h3v1h-3zM1046 630h3v1h-3zM1052 630h2v1h-2zM1054 629h1v1h-1zM1058 629h3v1h-3zM1064 628h3v1h-3zM1070 627h2v1h-2zM1072 626h1v1h-1zM1076 625h3v1h-3zM1082 624h3v1h-3zM1088 623h3v1h-3zM1094 622h2v1h-2zM1096 621h1v1h-1zM1100 620h2v1h-2zM1102 619h1v1h-1zM1106 618h2v1h-2zM1108 617h1v1h-1zM1112 616h1v1h-1zM1113 615h2v1h-2zM1118 613h3v1h-3zM1124 610h2v1h-2zM1126 609h1v1h-1zM1130 606h1v1h-1zM1131 605h2v1h-2zM1136 603h1v1h-1zM1137 602h2v1h-2zM1142 599h2v1h-2zM1144 598h1v1h-1zM1148 596h1v1h-1zM1149 595h1v1h-1zM1150 594h1v1h-1zM1154 592h1v1h-1zM1155 591h2v1h-2zM1160 589h1v1h-1zM1161 588h2v1h-2zM1166 586h3v1h-3zM1172 584h1v1h-1zM1173 583h1v1h-1zM1174 582h1v1h-1zM1178 580h3v1h-3zM1184 579h3v1h-3zM1190 578h3v1h-3z" fill="#FF0000"/>
<path d="M3 713h3v1h-3zM9 713h3v1h-3zM15 713h3v1h-3zM21 713h3v1h-3zM27 713h3v1h-3zM33 713h3v1h-3zM39 713h3v1h-3zM45 713h3v1h-3zM51 713h3v1h-3zM57 713h3v1h-3zM63 713h3v1h-3zM69 713h3v1h-3zM75 713h3v1h-3zM81 713h3v1h-3zM87 713h3v1h-3zM93 713h3v1h-3zM99 713h3v1h-3zM105 713h3v1h-3zM111 713h3v1h-3zM117 713h3v1h-3zM123 713h3v1h-3zM129 713h3v1h-3zM135 713h3v1h-3zM141 713h3v1h-3zM147 713h3v1h-3zM153 713h3v1h-3zM159 713h3v1h-3zM165 713h3v1h-3zM171 713h3v1h-3zM177 713h3v1h-3zM183 713h3v1h-3zM189 713h3v1h-3zM195 713h3v1h-3zM201 713h3v1h-3zM207 713h3v1h-3zM213 713h3v1h-3zM219 713h3v1h-3zM225 713h3v1h-3zM231 713h3v1h-3zM237 713h3v1h-3zM243 713h3v1h-3zM249 713h3v1h-3zM255 713h3v1h-3zM261 713h3v1h-3zM267 713h3v1h-3zM273 713h3v1h-3zM279 713h3v1h-3zM285 713h3v1h-3zM291 713h3v1h-3zM297 713h3v1h-3zM303 713h3v1h-3zM309 713h3v1h-3zM315 713h3v1h-3zM321 713h3v1h-3zM327 713h3v1h-3zM333 713h3v1h-3zM339 713h3v1h-3zM345 713h3v1h-3zM351 713h3v1h-3zM357 713h3v1h-3zM363 713h3v1h-3zM369 713h3v1h-3zM375 713h3v1h-3zM381 713h3v1h-3zM387 713h3v1h-3zM393 713h3v1h-3zM399 713h3v1h-3zM405 713h3v1h-3zM411 713h3v1h-3zM417 713h3v1h-3zM423 713h3v1h-3zM429 713h3v1h-3zM435 713h3v1h-3zM441 713h3v1h-3zM447 713h3v1h-3zM453 713h3v1h-3zM459 713h3v1h-3zM465 713h3v1h-3zM471 713h3v1h-3zM477 713h3v1h-3zM483 713h3v1h-3zM489 713h3v1h-3zM495 713h3v1h-3zM501 713h3v1h-3zM507 713h3v1h-3zM513 713h3v1h-3zM519 713h3v1h-3zM525 713h3v1h-3zM531 713h3v1h-3zM537 713h3v1h-3zM543 713h3v1h-3zM549 713h3v1h-3zM555 713h3v1h-3zM561 713h3v1h-3zM567 713h3v1h-3zM573 713h3v1h-3zM579 713h3v1h-3zM585 713h3v1h-3zM591 713h3v1h-3zM597 713h3v1h-3zM603 713h3v1h-3zM609 713h3v1h-3zM615 713h3v1h-3zM621 713h3v1h-3zM627 713h3v1h-3zM633 713h3v1h-3zM639 713h3v1h-3zM645 713h3v1h-3zM651 713h3v1h-3zM657 713h3v1h-3zM663 713h3v1h-3zM669 713h3v1h-3zM675 713h3v1h-3zM681 713h3v1h-3zM687 713h3v1h-3zM693 713h3v1h-3zM699 713h3v1h-3zM705 713h3v1h-3zM711 713h3v1h-3zM717 713h3v1h-3zM723 713h3v1h-3zM729 713h3v1h-3zM735 713h3v1h-3zM741 713h3v1h-3zM747 713h3v1h-3zM753 713h3v1h-3zM759 713h3v1h-3zM765 713h3v1h-3zM771 713h3v1h-3zM777 713h3v1h-3zM783 713h3v1h-3zM789 713h3v1h-3zM795 713h3v1h-3zM801 713h3v1h-3zM807 713h3v1h-3zM813 713h3v1h-3zM819 713h3v1h-3zM825 713h3v1h-3zM831 713h3v1h-3zM837 713h3v1h-3zM843 713h3v1h-3zM849 713h3v1h-3zM855 713h3v1h-3zM861 713h3v1h-3zM867 713h3v1h-3zM873 713h3v1h-3zM879 713h3v1h-3zM885 713h3v1h-3zM891 713h3v1h-3zM897 713h3v1h-3zM903 713h3v1h-3zM909 713h3v1h-3zM915 713h3v1h-3zM921 713h3v1h-3zM927 713h3v1h-3zM933 713h3v1h-3zM939 713h3v1h-3zM945 713h3v1h-3zM951 713h3v1h-3zM957 713h3v1h-3zM963 713h3v1h-3zM969 713h3v1h-3zM975 713h3v1h-3zM981 713h3v1h-3zM987 713h3v1h-3zM993 713h3v1h-3zM999 713h3v1h-3zM1005 713h3v1h-3zM1011 713h3v1h-3zM1017 713h3v1h-3zM1023 713h3v1h-3zM1029 713h3v1h-3zM1035 713h3v1h-3zM1041 713h3v1h-3zM1047 713h3v1h-3zM1053 713h3v1h-3zM1059 713h3v1h-3zM1065 713h3v1h-3zM1071 713h3v1h-3zM1077 713h3v1h-3zM1083 713h3v1h-3zM1089 713h3v1h-3zM1095 713h3v1h-3zM1101 713h3v1h-3zM1107 713h3v1h-3zM1113 713h3v1h-3zM1119 713h3v1h-3zM1125 713h3v1h-3zM1131 713h3v1h-3zM1137 713h3v1h-3zM1143 713h3v1h-3zM1149 713h3v1h-3zM1155 713h3v1h-3zM1161 713h3v1h-3zM1167 713h3v1h-3zM1173 713h3v1h-3zM1179 713h3v1h-3zM1185 713h3v1h-3zM1191 713h3v1h-3zM1197 713h3v1h-3zM1203 713h3v1h-3zM1209 713h3v1h-3zM1215 713h3v1h-3zM1221 713h3v1h-3zM1227 713h3v1h-3zM1233 713h3v1h-3zM1239 713h3v1h-3zM1245 713h3v1h-3zM1251 713h3v1h-3zM1257 713h3v1h-3zM1263 713h3v1h-3zM1269 713h3v1h-3zM1275 713h3v1h-3zM1281 713h3v1h-3zM1287 713h3v1h-3zM1293 713h3v1h-3zM1299 713h3v1h-3zM1305 713h3v1h-3zM1311 713h3v1h-3zM1317 713h3v1h-3zM1323 713h3v1h-3zM1329 713h3v1h-3zM1335 713h3v1h-3zM1341 713h3v1h-3zM1347 713h3v1h-3zM1353 713h3v1h-3zM1359 713h3v1h-3zM1365 713h3v1h-3zM1371 713h3v1h-3zM1377 713h3v1h-3zM1383 713h3v1h-3zM1389 713h3v1h-3zM1395 713h3v1h-3zM1401 713h3v1h-3zM1407 713h3v1h-3zM1413 713h3v1h-3z" fill="#c0c0c0"/>
<path d="M3 764h3v1h-3zM9 764h3v1h-3zM15 764h3v1h-3zM21 764h3v1h-3zM27 764h3v1h-3zM33 764h3v1h-3zM39 764h3v1h-3zM45 764h3v1h-3zM51 764h3v1h-3zM57 764h3v1h-3zM63 764h3v1h-3zM69 764h3v1h-3zM75 764h3v1h-3zM81 764h3v1h-3zM87 764h3v1h-3zM93 764h3v1h-3zM99 764h3v1h-3zM105 764h3v1h-3zM111 764h3v1h-3zM117 764h3v1h-3zM123 764h3v1h-3zM129 764h3v1h-3zM135 764h3v1h-3zM141 764h3v1h-3zM147 764h3v1h-3zM153 764h3v1h-3zM159 764h3v1h-3zM165 764h3v1h-3zM171 764h3v1h-3zM177 764h3v1h-3zM183 764h3v1h-3zM189 764h3v1h-3zM195 764h3v1h-3zM201 764h3v1h-3zM207 764h3v1h-3zM213 764h3v1h-3zM219 764h3v1h-3zM225 764h3v1h-3zM231 764h3v1h-3zM237 764h3v1h-3zM243 764h3v1h-3zM249 764h3v1h-3zM255 764h3v1h-3zM261 764h3v1h-3zM267 764h3v1h-3zM273 764h3v1h-3zM279 764h3v1h-3zM285 764h3v1h-3zM291 764h3v1h-3zM297 764h3v1h-3zM303 764h3v1h-3zM309 764h3v1h-3zM315 764h3v1h-3zM321 764h3v1h-3zM327 764h3v1h-3zM333 764h3v1h-3zM339 764h3v1h-3zM345 764h3v1h-3zM351 764h3v1h-3zM357 764h3v1h-3zM363 764h3v1h-3zM369 764h3v1h-3zM375 764h3v1h-3zM381 764h3v1h-3zM387 764h3v1h-3zM393 764h3v1h-3zM399 764h3v1h-3zM405 764h3v1h-3zM411 764h3v1h-3zM417 764h3v1h-3zM423 764h3v1h-3zM429 764h3v1h-3zM435 764h3v1h-3zM441 764h3v1h-3zM447 764h3v1h-3zM453 764h3v1h-3zM459 764h3v1h-3zM465 764h3v1h-3zM471 764h3v1h-3zM477 764h3v1h-3zM483 764h3v1h-3zM489 764h3v1h-3zM495 764h3v1h-3zM501 764h3v1h-3zM507 764h3v1h-3zM513 764h3v1h-3zM519 764h3v1h-3zM525 764h3v1h-3zM531 764h3v1h-3zM537 764h3v1h-3zM543 764h3v1h-3zM549 764h3v1h-3zM555 764h3v1h-3zM561 764h3v1h-3zM567 764h3v1h-3zM573 764h3v1h-3zM579 764h3v1h-3zM585 764h3v1h-3zM591 764h3v1h-3zM597 764h3v1h-3zM603 764h3v1h-3zM609 764h3v1h-3zM615 764h3v1h-3zM621 764h3v1h-3zM627 764h3v1h-3zM633 764h3v1h-3zM639 764h3v1h-3zM645 764h3v1h-3zM651 764h3v1h-3zM657 764h3v1h-3zM663 764h3v1h-3zM669 764h3v1h-3zM675 764h3v1h-3zM681 764h3v1h-3zM687 764h3v1h-3zM693 764h3v1h-3zM699 764h3v1h-3zM705 764h3v1h-3zM711 764h3v1h-3zM717 764h3v1h-3zM723 764h3v1h-3zM729 764h3v1h-3zM735 764h3v1h-3zM741 764h3v1h-3zM747 764h3v1h-3zM753 764h3v1h-3zM759 764h3v1h-3zM765 764h3v1h-3zM771 764h3v1h-3zM777 764h3v1h-3zM783 764h3v1h-3zM789 764h3v1h-3zM795 764h3v1h-3zM801 764h3v1h-3zM807 764h3v1h-3zM813 764h3v1h-3zM819 764h3v1h-3zM825 764h3v1h-3zM831 764h3v1h-3zM837 764h3v1h-3zM843 764h3v1h-3zM849 764h3v1h-3zM855 764h3v1h-3zM861 764h3v1h-3zM867 764h3v1h-3zM873 764h3v1h-3zM879 764h3v1h-3zM885 764h3v1h-3zM891 764h3v1h-3zM897 764h3v1h-3zM903 764h3v1h-3zM909 764h3v1h-3zM915 764h3v1h-3zM921 764h3v1h-3zM927 764h3v1h-3zM933 764h3v1h-3zM939 764h3v1h-3zM945 764h3v1h-3zM951 764h3v1h-3zM957 764h3v1h-3zM963 764h3v1h-3zM969 764h3v1h-3zM975 764h3v1h-3zM981 764h3v1h-3zM987 764h3v1h-3zM993 764h3v1h-3zM999 764h3v1h-3zM1005 764h3v1h-3zM1011 764h3v1h-3zM1017 764h3v1h-3zM1023 764h3v1h-3zM1029 764h3v1h-3zM1035 764h3v1h-3zM1041 764h3v1h-3zM1047 764h3v1h-3zM1053 764h3v1h-3zM1059 764h3v1h-3zM1065 764h3v1h-3zM1071 764h3v1h-3zM1077 764h3v1h-3zM1083 764h3v1h-3zM1089 764h3v1h-3zM1095 764h3v1h-3zM1101 764h3v1h-3zM1107 764h3v1h-3zM1113 764h3v1h-3zM1119 764h3v1h-3zM1125 764h3v1h-3zM1131 764h3v1h-3zM1137 764h3v1h-3zM1143 764h3v1h-3zM1149 764h3v1h-3zM1155 764h3v1h-3zM1161 764h3v1h-3zM1167 764h3v1h-3zM1173 764h3v1h-3zM1179 764h3v1h-3zM1185 764h3v1h-3zM1191 764h3v1h-3zM1197 764h3v1h-3zM1203 764h3v1h-3zM1209 764h3v1h-3zM1215 764h3v1h-3zM1221 764h3v1h-3zM1227 764h3v1h-3zM1233 764h3v1h-3zM1239 764h3v1h-3zM1245 764h3v1h-3zM1251 764h3v1h-3zM1257 764h3v1h-3zM1263 764h3v1h-3zM1269 764h3v1h-3zM1275 764h3v1h-3zM1281 764h3v1h-3zM1287 764h3v1h-3zM1293 764h3v1h-3zM1299 764h3v1h-3zM1305 764h3v1h-3zM1311 764h3v1h-3zM1317 764h3v1h-3zM1323 764h3v1h-3zM1329 764h3v1h-3zM1335 764h3v1h-3zM1341 764h3v1h-3zM1347 764h3v1h-3zM1353 764h3v1h-3zM1359 764h3v1h-3zM1365 764h3v1h-3zM1371 764h3v1h-3zM1377 764h3v1h-3zM1383 764h3v1h-3zM1389 764h3v1h-3zM1395 764h3v1h-3zM1401 764h3v1h-3zM1407 764h3v1h-3zM1413 764h3v1h-3z" fill="#c0c0c0"/>
<path d="M2 717h12v1h-12zM14 716h5v1h-5zM18 717h1v1h-1zM19 718h1v3h-1zM20 721h1v2h-1zM21 723h1v3h-1zM22 726h1v3h-1zM23 729h1v3h-1zM24 732h1v2h-1zM25 734h1v3h-1zM26 737h1v2h-1zM27 739h1v1h-1zM28 740h1v2h-1zM29 742h1v1h-1zM30 743h1v1h-1zM31 744h1v1h-1zM32 745h1v2h-1zM33 747h1v1h-1zM34 748h1v1h-1zM35 747h1v1h-1zM36 746h1v1h-1zM37 745h1v1h-1zM38 744h2v1h-2zM40 743h1v1h-1zM41 742h1v1h-1zM42 741h4v1h-4zM46 740h8v1h-8zM54 739h5v1h-5zM59 738h2v1h-2zM61 737h1v1h-1zM62 736h2v1h-2zM64 735h2v1h-2zM66 734h2v1h-2zM68 733h2v1h-2zM70 732h3v1h-3zM73 731h2v1h-2zM75 730h2v1h-2zM77 729h1v1h-1zM78 728h2v1h-2zM80 727h2v1h-2zM82 726h1v1h-1zM83 727h1v1h-1zM84 728h1v1h-1zM85 729h1v1h-1zM86 730h2v1h-2zM88 731h1v1h-1zM89 732h1v1h-1zM90 733h4v1h-4zM94 734h5v1h-5zM99 735h2v1h-2zM101 736h1v1h-1zM102 737h2v1h-2zM104 738h2v1h-2zM106 739h2v1h-2zM108 740h2v1h-2zM110 741h3v1h-3zM113 742h2v1h-2zM115 741h2v1h-2zM117 740h1v1h-1zM118 739h2v1h-2zM120 738h2v1h-2zM122 737h2v1h-2zM124 736h2v1h-2zM126 735h3v1h-3zM129 734h2v1h-2zM131 735h2v1h-2zM133 736h1v1h-1zM134 737h2v1h-2zM136 738h2v1h-2zM138 739h9v1h-9zM147 738h1v1h-1zM148 737h2v1h-2zM150 736h1v1h-1zM151 735h1v1h-1zM152 734h2v1h-2zM154 733h10v1h-10zM164 732h4v1h-4zM168 731h3v1h-3zM171 732h2v1h-2zM173 733h1v1h-1zM174 734h2v1h-2zM176 735h2v1h-2zM178 736h2v1h-2zM180 737h4v1h-4zM184 738h3v1h-3zM187 737h1v1h-1zM188 736h2v1h-2zM190 735h1v1h-1zM191 734h1v1h-1zM192 733h3v1h-3zM194 732h1v1h-1zM195 734h1v3h-1zM196 737h1v3h-1zM197 740h1v3h-1zM198 743h1v3h-1zM199 746h1v3h-1zM200 749h1v3h-1zM201 752h1v3h-1zM202 755h1v1h-1zM202 756h2v1h-2zM204 757h2v1h-2zM206 758h3v1h-3zM209 759h2v1h-2zM211 758h2v1h-2zM213 757h1v1h-1zM214 756h2v1h-2zM216 755h2v1h-2zM218 754h2v1h-2zM220 753h2v1h-2zM222 752h3v1h-3zM225 751h3v1h-3zM228 750h4v1h-4zM232 749h3v1h-3zM235 748h1v1h-1zM236 746h1v2h-1zM237 745h1v1h-1zM238 744h1v1h-1zM239 743h1v1h-1zM240 741h1v2h-1zM241 740h1v1h-1zM242 739h1v1h-1zM243 740h2v1h-2zM245 741h1v1h-1zM246 742h2v1h-2zM248 743h2v1h-2zM250 744h1v1h-1zM251 745h1v1h-1zM252 746h2v1h-2zM254 747h1v1h-1zM255 748h1v1h-1zM256 749h2v1h-2zM258 750h2v1h-2zM260 749h2v1h-2zM262 748h3v1h-3zM265 747h2v1h-2zM267 746h1v1h-1zM268 745h1v1h-1zM269 744h1v1h-1zM270 743h2v1h-2zM272 742h1v1h-1zM273 741h1v1h-1zM274 740h4v1h-4zM278 741h6v1h-6zM284 742h2v1h-2zM286 743h3v1h-3zM289 744h2v1h-2zM291 743h2v1h-2zM293 742h1v1h-1zM294 741h2v1h-2zM296 740h2v1h-2zM298 739h2v1h-2zM300 740h2v1h-2zM302 741h3v1h-3zM305 742h2v1h-2zM307 741h1v1h-1zM308 740h1v1h-1zM309 739h1v1h-1zM310 738h2v1h-2zM312 737h1v1h-1zM313 736h1v1h-1zM314 735h1v1h-1zM315 736h2v1h-2zM317 737h1v1h-1zM318 738h2v1h-2zM320 739h2v1h-2zM322 740h2v1h-2zM324 741h4v1h-4zM328 742h11v1h-11zM339 743h2v1h-2zM341 744h1v1h-1zM342 745h2v1h-2zM344 746h2v1h-2zM346 747h2v1h-2zM348 746h4v1h-4zM352 745h3v1h-3zM355 746h2v1h-2zM357 747h2v1h-2zM359 748h2v1h-2zM361 749h5v1h-5zM366 750h5v1h-5zM371 749h1v1h-1zM372 748h1v1h-1zM373 747h1v1h-1zM374 746h2v1h-2zM376 745h1v1h-1zM377 744h1v1h-1zM378 743h4v1h-4zM382 744h5v1h-5zM387 745h2v1h-2zM389 746h1v1h-1zM390 747h2v1h-2zM392 748h2v1h-2zM394 749h1v1h-1zM395 750h1v1h-1zM396 751h2v1h-2zM398 752h1v1h-1zM399 753h1v1h-1zM400 754h2v1h-2zM402 755h2v1h-2zM404 754h2v1h-2zM406 753h3v1h-3zM409 752h2v1h-2zM411 753h1v1h-1zM412 754h1v2h-1zM413 756h1v1h-1zM414 757h1v1h-1zM415 758h1v1h-1zM416 759h1v2h-1zM417 761h1v1h-1zM418 762h1v1h-1zM419 763h2v1h-2zM421 764h2v1h-2zM423 765h2v1h-2zM425 766h2v1h-2zM427 767h2v1h-2zM429 768h1v1h-1zM430 769h2v1h-2zM432 770h2v1h-2zM434 771h9v1h-9zM443 770h2v1h-2zM445 769h1v1h-1zM446 768h2v1h-2zM448 767h2v1h-2zM450 766h2v1h-2zM452 767h4v1h-4zM456 768h3v1h-3zM459 767h1v1h-1zM460 766h1v1h-1zM461 765h1v1h-1zM462 763h1v2h-1zM463 762h1v1h-1zM464 761h1v1h-1zM465 760h1v1h-1zM466 759h1v1h-1zM467 758h1v1h-1zM468 756h1v2h-1zM469 755h1v1h-1zM470 754h1v1h-1zM471 753h1v1h-1zM472 751h1v2h-1zM473 750h1v1h-1zM474 749h4v1h-4zM478 750h5v1h-5zM483 749h2v1h-2zM485 748h1v1h-1zM486 747h2v1h-2zM488 746h2v1h-2zM490 745h1v1h-1zM491 746h1v1h-1zM492 747h2v1h-2zM494 748h1v1h-1zM495 749h1v1h-1zM496 750h2v1h-2zM498 751h2v1h-2zM500 750h4v1h-4zM504 749h3v1h-3zM507 750h1v1h-1zM508 751h1v2h-1zM509 753h1v1h-1zM510 754h1v1h-1zM511 755h1v1h-1zM512 756h1v2h-1zM513 758h1v1h-1zM514 759h12v1h-12zM526 760h5v1h-5zM531 761h1v1h-1zM532 762h1v1h-1zM533 763h1v1h-1zM534 764h1v1h-1zM535 765h1v1h-1zM536 766h1v1h-1zM537 767h1v1h-1zM538 768h4v1h-4zM542 767h5v1h-5zM546 766h1v1h-1zM547 764h1v2h-1zM548 762h1v2h-1zM549 760h1v2h-1zM550 757h1v3h-1zM551 755h1v2h-1zM552 753h1v2h-1zM553 751h1v2h-1zM554 749h1v2h-1zM555 748h1v1h-1zM556 747h2v1h-2zM558 746h1v1h-1zM559 745h1v1h-1zM560 744h2v1h-2zM562 743h1v1h-1zM563 744h2v1h-2zM565 745h2v1h-2zM567 746h2v1h-2zM569 747h2v1h-2zM571 746h2v1h-2zM573 745h2v1h-2zM575 744h2v1h-2zM577 743h3v1h-3zM580 742h2v1h-2zM582 741h3v1h-3zM585 740h10v1h-10zM595 739h2v1h-2zM597 738h2v1h-2zM599 737h2v1h-2zM601 736h2v1h-2zM603 737h1v1h-1zM604 738h1v1h-1zM605 739h1v1h-1zM606 740h1v1h-1zM607 741h1v1h-1zM608 742h1v1h-1zM609 743h1v1h-1zM610 744h1v1h-1zM611 743h2v1h-2zM613 742h2v1h-2zM615 741h2v1h-2zM617 740h5v1h-5zM622 741h6v1h-6zM628 742h4v1h-4zM632 743h11v1h-11zM643 744h1v1h-1zM644 745h1v1h-1zM645 746h1v1h-1zM646 747h1v2h-1zM647 749h1v1h-1zM648 750h1v1h-1zM649 751h1v1h-1zM650 752h1v1h-1zM651 753h2v1h-2zM653 754h1v1h-1zM654 755h2v1h-2zM656 756h2v1h-2zM658 757h1v1h-1zM659 756h2v1h-2zM661 755h2v1h-2zM663 754h2v1h-2zM665 753h2v1h-2zM667 754h2v1h-2zM669 755h1v1h-1zM670 756h2v1h-2zM672 757h2v1h-2zM674 758h2v1h-2zM676 759h2v1h-2zM678 760h3v1h-3zM681 761h11v1h-11zM692 762h4v1h-4zM696 763h3v1h-3zM699 762h1v1h-1zM700 761h1v1h-1zM701 760h1v1h-1zM702 759h2v1h-2zM704 758h1v1h-1zM705 757h1v1h-1zM706 756h1v1h-1zM707 755h1v1h-1zM708 754h1v1h-1zM709 753h1v1h-1zM710 751h1v2h-1zM711 750h1v1h-1zM712 749h1v1h-1zM713 748h1v1h-1zM714 747h2v1h-2zM716 748h2v1h-2zM718 749h3v1h-3zM721 750h5v1h-5zM726 751h5v1h-5zM731 750h2v1h-2zM733 749h2v1h-2zM735 748h2v1h-2zM737 747h2v1h-2zM739 746h1v1h-1zM740 745h1v1h-1zM741 744h1v1h-1zM742 743h2v1h-2zM744 742h1v1h-1zM745 741h1v1h-1zM746 740h4v1h-4zM750 741h13v1h-13zM763 742h1v1h-1zM764 743h1v1h-1zM765 744h1v1h-1zM766 745h2v1h-2zM768 746h1v1h-1zM769 747h1v1h-1zM770 748h2v1h-2zM772 749h4v1h-4zM776 750h3v1h-3zM779 749h1v1h-1zM780 748h1v1h-1zM781 747h1v1h-1zM782 746h1v1h-1zM783 745h1v1h-1zM784 744h1v1h-1zM785 743h1v1h-1zM786 742h2v1h-2zM788 743h2v1h-2zM790 744h3v1h-3zM793 745h3v1h-3zM796 744h2v1h-2zM798 743h3v1h-3zM801 742h5v1h-5zM806 743h5v1h-5zM811 744h1v2h-1zM812 746h1v1h-1zM813 747h1v1h-1zM814 748h1v2h-1zM815 750h1v1h-1zM816 751h1v1h-1zM817 752h1v2h-1zM818 754h1v1h-1zM819 753h1v1h-1zM820 751h1v2h-1zM821 750h1v1h-1zM822 749h1v1h-1zM823 748h1v1h-1zM824 746h1v2h-1zM825 745h1v1h-1zM826 744h1v1h-1zM827 743h1v1h-1zM828 742h2v1h-2zM830 741h1v1h-1zM831 740h1v1h-1zM832 739h2v1h-2zM834 738h1v1h-1zM835 739h2v1h-2zM837 740h2v1h-2zM839 741h2v1h-2zM841 742h3v1h-3zM844 741h2v1h-2zM846 740h3v1h-3zM849 739h2v1h-2zM851 738h2v1h-2zM853 737h1v1h-1zM854 736h2v1h-2zM856 735h2v1h-2zM858 734h9v1h-9zM867 735h1v1h-1zM868 736h2v1h-2zM870 737h1v1h-1zM871 738h1v1h-1zM872 739h2v1h-2zM874 740h10v1h-10zM884 739h4v1h-4zM888 738h3v1h-3zM891 739h2v1h-2zM893 740h1v1h-1zM894 741h2v1h-2zM896 742h2v1h-2zM898 743h4v1h-4zM902 742h6v1h-6zM908 743h2v1h-2zM910 744h3v1h-3zM913 745h2v1h-2zM915 744h2v1h-2zM917 743h1v1h-1zM918 742h2v1h-2zM920 741h2v1h-2zM922 740h17v1h-17zM939 739h2v1h-2zM941 738h2v1h-2zM943 737h2v1h-2zM945 736h2v1h-2zM947 737h1v1h-1zM948 738h1v1h-1zM949 739h1v1h-1zM950 740h1v2h-1zM951 742h1v1h-1zM952 743h1v1h-1zM953 744h1v1h-1zM954 745h4v1h-4zM958 746h5v1h-5zM963 745h2v1h-2zM965 744h1v1h-1zM966 743h2v1h-2zM968 742h2v1h-2zM970 741h1v1h-1zM971 742h1v2h-1zM972 744h1v2h-1zM973 746h1v2h-1zM974 748h1v1h-1zM975 749h1v2h-1zM976 751h1v2h-1zM977 753h1v2h-1zM978 755h1v1h-1zM979 753h1v2h-1zM980 752h1v1h-1zM981 750h1v2h-1zM982 749h1v1h-1zM983 747h1v2h-1zM984 746h1v1h-1zM985 744h1v2h-1zM986 743h1v1h-1zM987 742h2v1h-2zM989 741h2v1h-2zM991 740h2v1h-2zM993 739h2v1h-2zM995 738h2v1h-2zM997 737h2v1h-2zM999 736h2v1h-2zM1001 735h3v1h-3zM1004 734h2v1h-2zM1006 733h3v1h-3zM1009 732h2v1h-2zM1011 731h2v1h-2zM1013 730h1v1h-1zM1014 729h2v1h-2zM1016 728h2v1h-2zM1018 727h1v1h-1zM1019 728h2v1h-2zM1021 729h2v1h-2zM1023 730h2v1h-2zM1025 731h18v1h-18zM1043 732h2v1h-2zM1045 733h2v1h-2zM1047 734h2v1h-2zM1049 735h2v1h-2zM1051 734h1v1h-1zM1052 733h1v1h-1zM1053 732h1v1h-1zM1054 731h2v1h-2zM1056 730h1v1h-1zM1057 729h1v1h-1zM1058 728h1v1h-1zM1059 729h2v1h-2zM1061 730h1v1h-1zM1062 731h2v1h-2zM1064 732h2v1h-2zM1066 733h1v1h-1zM1067 731h1v2h-1zM1068 729h1v2h-1zM1069 727h1v2h-1zM1070 725h1v2h-1zM1071 723h1v2h-1zM1072 721h1v2h-1zM1073 719h1v2h-1zM1074 718h1v1h-1zM1074 717h2v1h-2zM1076 716h4v1h-4zM1080 715h6v1h-6zM1086 714h5v1h-5zM1091 713h1v1h-1zM1092 712h1v1h-1zM1093 711h1v1h-1zM1094 710h1v1h-1zM1095 709h1v1h-1zM1096 708h1v1h-1zM1097 707h1v1h-1zM1098 706h4v1h-4zM1102 705h5v1h-5zM1107 704h1v1h-1zM1108 703h1v1h-1zM1109 702h1v1h-1zM1110 700h1v2h-1zM1111 699h1v1h-1zM1112 698h1v1h-1zM1113 697h1v1h-1zM1114 696h1v1h-1zM1115 697h2v1h-2zM1117 698h1v1h-1zM1118 699h2v1h-2zM1120 700h2v1h-2zM1122 701h10v1h-10zM1132 700h2v1h-2zM1134 699h3v1h-3zM1137 698h5v1h-5zM1142 697h5v1h-5zM1147 698h2v1h-2zM1149 699h1v1h-1zM1150 700h2v1h-2zM1152 701h2v1h-2zM1154 702h2v1h-2zM1156 703h2v1h-2zM1158 704h3v1h-3zM1161 705h3v1h-3zM1164 704h4v1h-4zM1168 703h3v1h-3zM1171 704h2v1h-2zM1173 705h1v1h-1zM1174 706h2v1h-2zM1176 707h2v1h-2zM1178 708h1v1h-1zM1179 709h1v1h-1zM1180 710h2v1h-2zM1182 711h1v1h-1zM1183 712h1v1h-1zM1184 713h2v1h-2zM1186 714h1v1h-1zM1187 715h2v1h-2zM1189 716h2v1h-2zM1191 717h2v1h-2zM1193 718h2v1h-2z" fill="#1E90FF"/>
<rect x="1418" y="35" width="2" height="1" fill="#000"/>
<text x="1423" y="39" font-size="9.8" fill="#000" textLength="33" lengthAdjust="spacingAndGlyphs" stroke="#000" stroke-width="0.35">6.99070</text>
<rect x="1418" y="68" width="2" height="1" fill="#000"/>
<text x="1423" y="72" font-size="9.8" fill="#000" textLength="33" lengthAdjust="spacingAndGlyphs" stroke="#000" stroke-width="0.35">6.97030</text>
<rect x="1418" y="101" width="2" height="1" fill="#000"/>
<text x="1423" y="105" font-size="9.8" fill="#000" textLength="33" lengthAdjust="spacingAndGlyphs" stroke="#000" stroke-width="0.35">6.94990</text>
<rect x="1418" y="134" width="2" height="1" fill="#000"/>
<text x="1423" y="138" font-size="9.8" fill="#000" textLength="33" lengthAdjust="spacingAndGlyphs" stroke="#000" stroke-width="0.35">6.92950</text>
<rect x="1418" y="167" width="2" height="1" fill="#000"/>
<text x="1423" y="171" font-size="9.8" fill="#000" textLength="33" lengthAdjust="spacingAndGlyphs" stroke="#000" stroke-width="0.35">6.90910</text>
<rect x="1418" y="200" width="2" height="1" fill="#000"/>
<text x="1423" y="204" font-size="9.8" fill="#000" textLength="33" lengthAdjust="spacingAndGlyphs" stroke="#000" stroke-width="0.35">6.88810</text>
<rect x="1418" y="233" width="2" height="1" fill="#000"/>
<text x="1423" y="237" font-size="9.8" fill="#000" textLength="33" lengthAdjust="spacingAndGlyphs" stroke="#000" stroke-width="0.35">6.86770</text>
<rect x="1418" y="266" width="2" height="1" fill="#000"/>
<text x="1423" y="270" font-size="9.8" fill="#000" textLength="33" lengthAdjust="spacingAndGlyphs" stroke="#000" stroke-width="0.35">6.84730</text>
<rect x="1418" y="299" width="2" height="1" fill="#000"/>
<text x="1423" y="303" font-size="9.8" fill="#000" textLength="33" lengthAdjust="spacingAndGlyphs" stroke="#000" stroke-width="0.35">6.82690</text>
<rect x="1418" y="332" width="2" height="1" fill="#000"/>
<text x="1423" y="336" font-size="9.8" fill="#000" textLength="33" lengthAdjust="spacingAndGlyphs" stroke="#000" stroke-width="0.35">6.80650</text>
<rect x="1418" y="365" width="2" height="1" fill="#000"/>
<text x="1423" y="369" font-size="9.8" fill="#000" textLength="33" lengthAdjust="spacingAndGlyphs" stroke="#000" stroke-width="0.35">6.78610</text>
<rect x="1418" y="398" width="2" height="1" fill="#000"/>
<text x="1423" y="402" font-size="9.8" fill="#000" textLength="33" lengthAdjust="spacingAndGlyphs" stroke="#000" stroke-width="0.35">6.76510</text>
<rect x="1418" y="431" width="2" height="1" fill="#000"/>
<text x="1423" y="435" font-size="9.8" fill="#000" textLength="33" lengthAdjust="spacingAndGlyphs" stroke="#000" stroke-width="0.35">6.74470</text>
<rect x="1418" y="464" width="2" height="1" fill="#000"/>
<text x="1423" y="468" font-size="9.8" fill="#000" textLength="33" lengthAdjust="spacingAndGlyphs" stroke="#000" stroke-width="0.35">6.72430</text>
<rect x="1418" y="497" width="2" height="1" fill="#000"/>
<text x="1423" y="501" font-size="9.8" fill="#000" textLength="33" lengthAdjust="spacingAndGlyphs" stroke="#000" stroke-width="0.35">6.70390</text>
<rect x="1418" y="530" width="2" height="1" fill="#000"/>
<text x="1423" y="534" font-size="9.8" fill="#000" textLength="33" lengthAdjust="spacingAndGlyphs" stroke="#000" stroke-width="0.35">6.68350</text>
<rect x="1418" y="563" width="2" height="1" fill="#000"/>
<text x="1423" y="567" font-size="9.8" fill="#000" textLength="33" lengthAdjust="spacingAndGlyphs" stroke="#000" stroke-width="0.35">6.66310</text>
<rect x="1417" y="177" width="1" height="1" fill="#c0c0c0"/>
<rect x="1419" y="172" width="41" height="11" fill="#000"/>
<text x="1423" y="181" font-size="9.8" fill="#fff" textLength="33" lengthAdjust="spacingAndGlyphs" stroke="#fff" stroke-width="0.35">6.90264</text>
<rect x="1418" y="570" width="2" height="1" fill="#000"/>
<text x="1421" y="579" font-size="9.8" fill="#000" textLength="38" lengthAdjust="spacingAndGlyphs" stroke="#000" stroke-width="0.35">0.060342</text>
<rect x="1418" y="630" width="2" height="1" fill="#000"/>
<text x="1421" y="634" font-size="9.8" fill="#000" textLength="18" lengthAdjust="spacingAndGlyphs" stroke="#000" stroke-width="0.35">0.00</text>
<text x="1421" y="668" font-size="9.8" fill="#000" textLength="41" lengthAdjust="spacingAndGlyphs" stroke="#000" stroke-width="0.35">-0.040415</text>
<rect x="1418" y="675" width="2" height="1" fill="#000"/>
<text x="1421" y="684" font-size="9.8" fill="#000" textLength="15" lengthAdjust="spacingAndGlyphs" stroke="#000" stroke-width="0.35">100</text>
<text x="1420" y="717" font-size="9.8" fill="#000" textLength="10" lengthAdjust="spacingAndGlyphs" stroke="#000" stroke-width="0.35">70</text>
<text x="1420" y="768" font-size="9.8" fill="#000" textLength="10" lengthAdjust="spacingAndGlyphs" stroke="#000" stroke-width="0.35">30</text>
<text x="1421" y="800" font-size="9.8" fill="#000" textLength="5" lengthAdjust="spacingAndGlyphs" stroke="#000" stroke-width="0.35">0</text>
<rect x="1418" y="802" width="2" height="1" fill="#000"/>
<rect x="2" y="804" width="1" height="3" fill="#000"/>
<text x="1" y="816" font-size="9.8" fill="#000" textLength="51" lengthAdjust="spacingAndGlyphs" stroke="#000" stroke-width="0.35">29 Oct 2018</text>
<rect x="66" y="804" width="1" height="3" fill="#000"/>
<text x="65" y="816" font-size="9.8" fill="#000" textLength="49" lengthAdjust="spacingAndGlyphs" stroke="#000" stroke-width="0.35">8 Nov 2018</text>
<rect x="130" y="804" width="1" height="3" fill="#000"/>
<text x="129" y="816" font-size="9.8" fill="#000" textLength="54" lengthAdjust="spacingAndGlyphs" stroke="#000" stroke-width="0.35">20 Nov 2018</text>
<rect x="194" y="804" width="1" height="3" fill="#000"/>
<text x="193" y="816" font-size="9.8" fill="#000" textLength="54" lengthAdjust="spacingAndGlyphs" stroke="#000" stroke-width="0.35">30 Nov 2018</text>
<rect x="258" y="804" width="1" height="3" fill="#000"/>
<text x="257" y="816" font-size="9.8" fill="#000" textLength="52" lengthAdjust="spacingAndGlyphs" stroke="#000" stroke-width="0.35">12 Dec 2018</text>
<rect x="322" y="804" width="1" height="3" fill="#000"/>
<text x="321" y="816" font-size="9.8" fill="#000" textLength="52" lengthAdjust="spacingAndGlyphs" stroke="#000" stroke-width="0.35">24 Dec 2018</text>
<rect x="386" y="804" width="1" height="3" fill="#000"/>
<text x="385" y="816" font-size="9.8" fill="#000" textLength="45" lengthAdjust="spacingAndGlyphs" stroke="#000" stroke-width="0.35">3 Jan 2019</text>
<rect x="450" y="804" width="1" height="3" fill="#000"/>
<text x="449" y="816" font-size="9.8" fill="#000" textLength="50" lengthAdjust="spacingAndGlyphs" stroke="#000" stroke-width="0.35">15 Jan 2019</text>
<rect x="514" y="804" width="1" height="3" fill="#000"/>
<text x="513" y="816" font-size="9.8" fill="#000" textLength="50" lengthAdjust="spacingAndGlyphs" stroke="#000" stroke-width="0.35">25 Jan 2019</text>
<rect x="578" y="804" width="1" height="3" fill="#000"/>
<text x="577" y="816" font-size="9.8" fill="#000" textLength="47" lengthAdjust="spacingAndGlyphs" stroke="#000" stroke-width="0.35">6 Feb 2019</text>
<rect x="642" y="804" width="1" height="3" fill="#000"/>
<text x="641" y="816" font-size="9.8" fill="#000" textLength="52" lengthAdjust="spacingAndGlyphs" stroke="#000" stroke-width="0.35">18 Feb 2019</text>
<rect x="706" y="804" width="1" height="3" fill="#000"/>
<text x="705" y="816" font-size="9.8" fill="#000" textLength="52" lengthAdjust="spacingAndGlyphs" stroke="#000" stroke-width="0.35">28 Feb 2019</text>
<rect x="770" y="804" width="1" height="3" fill="#000"/>
<text x="769" y="816" font-size="9.8" fill="#000" textLength="52" lengthAdjust="spacingAndGlyphs" stroke="#000" stroke-width="0.35">12 Mar 2019</text>
<rect x="834" y="804" width="1" height="3" fill="#000"/>
<text x="833" y="816" font-size="9.8" fill="#000" textLength="52" lengthAdjust="spacingAndGlyphs" stroke="#000" stroke-width="0.35">22 Mar 2019</text>
<rect x="898" y="804" width="1" height="3" fill="#000"/>
<text x="897" y="816" font-size="9.8" fill="#000" textLength="46" lengthAdjust="spacingAndGlyphs" stroke="#000" stroke-width="0.35">3 Apr 2019</text>
<rect x="962" y="804" width="1" height="3" fill="#000"/>
<text x="961" y="816" font-size="9.8" fill="#000" textLength="51" lengthAdjust="spacingAndGlyphs" stroke="#000" stroke-width="0.35">15 Apr 2019</text>
<rect x="1026" y="804" width="1" height="3" fill="#000"/>
<text x="1025" y="816" font-size="9.8" fill="#000" textLength="51" lengthAdjust="spacingAndGlyphs" stroke="#000" stroke-width="0.35">26 Apr 2019</text>
<rect x="1090" y="804" width="1" height="3" fill="#000"/>
<text x="1089" y="816" font-size="9.8" fill="#000" textLength="50" lengthAdjust="spacingAndGlyphs" stroke="#000" stroke-width="0.35">8 May 2019</text>
<rect x="1154" y="804" width="1" height="3" fill="#000"/>
<text x="1153" y="816" font-size="9.8" fill="#000" textLength="55" lengthAdjust="spacingAndGlyphs" stroke="#000" stroke-width="0.35">20 May 2019</text>
<polygon points="5,38 12,38 8.5,34" fill="#000" shape-rendering="auto"/>
<text x="17.5" y="39" font-size="9.8" fill="#000" textLength="68.5" lengthAdjust="spacingAndGlyphs" stroke="#000" stroke-width="0.35">USDCNH-,Daily</text>
<text x="92" y="39" font-size="9.8" fill="#000" textLength="33" lengthAdjust="spacingAndGlyphs" stroke="#000" stroke-width="0.35">6.91306</text>
<text x="128" y="39" font-size="9.8" fill="#000" textLength="33" lengthAdjust="spacingAndGlyphs" stroke="#000" stroke-width="0.35">6.91410</text>
<text x="163.7" y="39" font-size="9.8" fill="#000" textLength="33" lengthAdjust="spacingAndGlyphs" stroke="#000" stroke-width="0.35">6.90184</text>
<text x="199.5" y="39" font-size="9.8" fill="#000" textLength="33" lengthAdjust="spacingAndGlyphs" stroke="#000" stroke-width="0.35">6.90264</text>
<text x="6.4" y="581" font-size="9.8" fill="#000" textLength="65" lengthAdjust="spacingAndGlyphs" stroke="#000" stroke-width="0.35">MACD(12,26,9)</text>
<text x="75.5" y="581" font-size="9.8" fill="#000" textLength="38" lengthAdjust="spacingAndGlyphs" stroke="#000" stroke-width="0.35">0.048497</text>
<text x="116" y="581" font-size="9.8" fill="#000" textLength="38" lengthAdjust="spacingAndGlyphs" stroke="#000" stroke-width="0.35">0.052169</text>
<text x="6.3" y="686" font-size="9.8" fill="#000" textLength="31.5" lengthAdjust="spacingAndGlyphs" stroke="#000" stroke-width="0.35">RSI(14)</text>
<text x="40.9" y="686" font-size="9.8" fill="#000" textLength="33" lengthAdjust="spacingAndGlyphs" stroke="#000" stroke-width="0.35">65.4249</text>
<rect x="1128" y="28" width="9" height="1" fill="#c0c0c0"/>
<rect x="2" y="798" width="1" height="1" fill="#c8c8c8"/>
<rect x="1129" y="29" width="7" height="1" fill="#c0c0c0"/>
<rect x="2" y="799" width="2" height="1" fill="#c8c8c8"/>
<rect x="1130" y="30" width="5" height="1" fill="#c0c0c0"/>
<rect x="2" y="800" width="3" height="1" fill="#c8c8c8"/>
<rect x="1131" y="31" width="3" height="1" fill="#c0c0c0"/>
<rect x="2" y="801" width="4" height="1" fill="#c8c8c8"/>
<rect x="1132" y="32" width="1" height="1" fill="#c0c0c0"/>
<rect x="2" y="802" width="5" height="1" fill="#c8c8c8"/>
<rect x="5" y="47" width="219" height="66" fill="#fff"/>
<rect x="5" y="47" width="52" height="25" fill="url(#gbtn)"/>
<rect x="172" y="47" width="52" height="25" fill="url(#gbtn)"/>
<rect x="5" y="71" width="109" height="40" fill="url(#gprice)"/>
<rect x="116" y="71" width="108" height="40" fill="url(#gprice)"/>
<rect x="9" y="70" width="44" height="1" fill="#1a1ab8"/>
<rect x="9" y="71" width="44" height="1" fill="#6a6aff"/>
<rect x="176" y="70" width="44" height="1" fill="#1a1ab8"/>
<rect x="176" y="71" width="44" height="1" fill="#6a6aff"/>
<rect x="5" y="47" width="52" height="1" fill="#1c1cd0"/>
<rect x="5" y="47" width="1" height="24" fill="#1c1cd0"/>
<rect x="56" y="47" width="1" height="24" fill="#1c1cd0"/>
<rect x="172" y="47" width="52" height="1" fill="#1c1cd0"/>
<rect x="172" y="47" width="1" height="24" fill="#1c1cd0"/>
<rect x="223" y="47" width="1" height="24" fill="#1c1cd0"/>
<rect x="5" y="71" width="1" height="40" fill="#0c0cb0"/>
<rect x="113" y="71" width="1" height="40" fill="#0c0cb0"/>
<rect x="5" y="110" width="109" height="1" fill="#0000a0"/>
<rect x="116" y="71" width="1" height="40" fill="#0c0cb0"/>
<rect x="223" y="71" width="1" height="40" fill="#0c0cb0"/>
<rect x="116" y="110" width="108" height="1" fill="#0000a0"/>
<rect x="57" y="71" width="57" height="1" fill="#1010b8"/>
<rect x="116" y="71" width="56" height="1" fill="#1010b8"/>
<rect x="59" y="47" width="111" height="22" fill="#a0a0a0"/>
<rect x="60" y="48" width="109" height="20" fill="#fff"/>
<rect x="61" y="49" width="19" height="18" fill="url(#gspin)"/>
<rect x="149" y="49" width="19" height="18" fill="url(#gspin)"/>
<rect x="80" y="48" width="1" height="20" fill="#a0a0a0"/>
<rect x="148" y="48" width="1" height="20" fill="#a0a0a0"/>
<polygon points="67,56 73,56 70,59" fill="#5a6fc0" shape-rendering="auto"/>
<polygon points="155,59 161,59 158,56" fill="#5a6fc0" shape-rendering="auto"/>
<text x="121.2" y="61.7" font-size="12.3" fill="#000" textLength="23.3" lengthAdjust="spacingAndGlyphs" stroke="#000" stroke-width="0.3">1.00</text>
<text x="17" y="63" font-size="12.2" fill="#fff" textLength="26" lengthAdjust="spacingAndGlyphs">SELL</text>
<text x="185.5" y="63" font-size="12.2" fill="#fff" textLength="23.6" lengthAdjust="spacingAndGlyphs">BUY</text>
<text x="25" y="101.8" font-size="12.6" fill="#fff" textLength="23.7" lengthAdjust="spacingAndGlyphs" font-weight="bold">6.90</text>
<text x="53.2" y="101.7" font-size="35.2" fill="#fff" textLength="34.3" lengthAdjust="spacingAndGlyphs">26</text>
<text x="92" y="86.2" font-size="13" fill="#fff" font-weight="bold">4</text>
<text x="135" y="101.8" font-size="12.6" fill="#fff" textLength="23.7" lengthAdjust="spacingAndGlyphs" font-weight="bold">6.90</text>
<text x="164.5" y="101.7" font-size="35.2" fill="#fff" textLength="34" lengthAdjust="spacingAndGlyphs">51</text>
<text x="203.5" y="86.2" font-size="13" fill="#fff" font-weight="bold">5</text>
<rect x="0" y="824" width="1462" height="1" fill="#e3e3e3"/>
<rect x="0" y="827" width="1462" height="21" fill="#f0f0f0"/>
<rect x="0" y="846" width="1462" height="1" fill="#ffffff"/>
<rect x="0" y="826" width="1462" height="1" fill="#000"/>
<rect x="436" y="825" width="110" height="19" fill="#fff"/>
<rect x="435" y="826" width="1" height="19" fill="#000"/>
<rect x="546" y="826" width="1" height="19" fill="#000"/>
<rect x="435" y="844" width="112" height="1" fill="#000"/>
<text x="14.8" y="840.4" font-size="12.5" fill="#6d6d6d" textLength="84.3" lengthAdjust="spacingAndGlyphs">EURUSD-,Daily</text>
<text x="121.3" y="840.4" font-size="12.5" fill="#6d6d6d" textLength="86.7" lengthAdjust="spacingAndGlyphs">AUDUSD-,Daily</text>
<text x="231.5" y="840.4" font-size="12.5" fill="#6d6d6d" textLength="83.5" lengthAdjust="spacingAndGlyphs">USDCHF-,Daily</text>
<text x="338.2" y="840.4" font-size="12.5" fill="#6d6d6d" textLength="85.8" lengthAdjust="spacingAndGlyphs">USDCAD-,Daily</text>
<text x="447.4" y="840.4" font-size="12.5" fill="#000" textLength="87.4" lengthAdjust="spacingAndGlyphs" stroke="#000" stroke-width="0.25">USDCNH-,Daily</text>
<text x="558.5" y="840.4" font-size="12.5" fill="#6d6d6d" textLength="96.5" lengthAdjust="spacingAndGlyphs">EURCHF-,Weekly</text>
<rect x="111" y="829" width="1" height="14" fill="#6d6d6d"/>
<rect x="219" y="829" width="1" height="14" fill="#6d6d6d"/>
<rect x="327" y="829" width="1" height="14" fill="#6d6d6d"/>
<rect x="667" y="829" width="1" height="14" fill="#6d6d6d"/>
<rect x="1435" y="832" width="1" height="6" fill="#8e8e8e"/>
<rect x="1452" y="832" width="1" height="6" fill="#8e8e8e"/>
<rect x="1434" y="833" width="1" height="4" fill="#8e8e8e"/>
<rect x="1453" y="833" width="1" height="4" fill="#8e8e8e"/>
<rect x="1433" y="834" width="1" height="2" fill="#8e8e8e"/>
<rect x="1454" y="834" width="1" height="2" fill="#8e8e8e"/>
</svg>
</body></html>
